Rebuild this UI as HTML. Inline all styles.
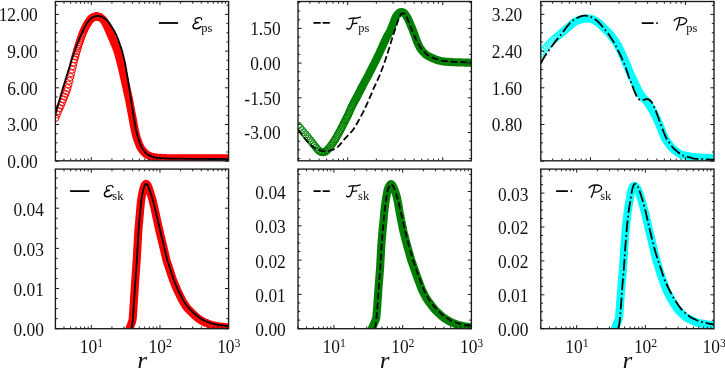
<!DOCTYPE html><html><head><meta charset="utf-8"><style>html,body{margin:0;padding:0;background:#fff;overflow:hidden}svg{display:block;will-change:transform}text{font-family:"Liberation Serif", serif}</style></head><body>
<svg width="725" height="368" viewBox="0 0 725 368">
<rect width="725" height="368" fill="#fff"/>
<defs>
<clipPath id="c00"><rect x="55.40" y="1.50" width="173.20" height="159.30"/></clipPath>
<clipPath id="c01"><rect x="298.00" y="1.50" width="173.40" height="159.30"/></clipPath>
<clipPath id="c02"><rect x="540.80" y="1.50" width="173.20" height="159.30"/></clipPath>
<clipPath id="c10"><rect x="55.40" y="169.10" width="173.20" height="159.60"/></clipPath>
<clipPath id="c11"><rect x="298.00" y="169.10" width="173.40" height="159.60"/></clipPath>
<clipPath id="c12"><rect x="540.80" y="169.10" width="173.20" height="159.60"/></clipPath>
</defs>
<g clip-path="url(#c00)">
<g fill="none" stroke="#ff0000" stroke-width="1.00"><circle cx="55.40" cy="118.00" r="3.55"/><circle cx="56.85" cy="114.37" r="3.55"/><circle cx="58.24" cy="111.06" r="3.55"/><circle cx="59.57" cy="108.10" r="3.55"/><circle cx="60.84" cy="105.26" r="3.55"/><circle cx="62.05" cy="102.35" r="3.55"/><circle cx="63.22" cy="99.44" r="3.55"/><circle cx="64.35" cy="96.63" r="3.55"/><circle cx="65.43" cy="93.91" r="3.55"/><circle cx="66.48" cy="91.18" r="3.55"/><circle cx="67.49" cy="88.06" r="3.55"/><circle cx="68.47" cy="84.48" r="3.55"/><circle cx="69.41" cy="80.75" r="3.55"/><circle cx="70.33" cy="76.96" r="3.55"/><circle cx="71.22" cy="73.25" r="3.55"/><circle cx="72.08" cy="69.64" r="3.55"/><circle cx="72.92" cy="66.05" r="3.55"/><circle cx="73.74" cy="62.49" r="3.55"/><circle cx="74.54" cy="59.26" r="3.55"/><circle cx="75.31" cy="56.40" r="3.55"/><circle cx="76.07" cy="53.69" r="3.55"/><circle cx="76.80" cy="51.06" r="3.55"/><circle cx="77.52" cy="48.51" r="3.55"/><circle cx="78.22" cy="46.10" r="3.55"/><circle cx="78.91" cy="43.94" r="3.55"/><circle cx="79.58" cy="41.97" r="3.55"/><circle cx="80.23" cy="40.10" r="3.55"/><circle cx="80.87" cy="38.29" r="3.55"/><circle cx="81.50" cy="36.52" r="3.55"/><circle cx="82.12" cy="34.81" r="3.55"/><circle cx="82.72" cy="33.21" r="3.55"/><circle cx="83.31" cy="31.77" r="3.55"/><circle cx="83.89" cy="30.47" r="3.55"/><circle cx="84.46" cy="29.27" r="3.55"/><circle cx="85.01" cy="28.15" r="3.55"/><circle cx="85.56" cy="27.08" r="3.55"/><circle cx="86.10" cy="26.07" r="3.55"/><circle cx="86.63" cy="25.11" r="3.55"/><circle cx="87.14" cy="24.20" r="3.55"/><circle cx="87.65" cy="23.34" r="3.55"/><circle cx="88.16" cy="22.53" r="3.55"/><circle cx="88.65" cy="21.77" r="3.55"/><circle cx="89.13" cy="21.07" r="3.55"/><circle cx="89.61" cy="20.43" r="3.55"/><circle cx="90.08" cy="19.85" r="3.55"/><circle cx="90.54" cy="19.33" r="3.55"/><circle cx="91.00" cy="18.86" r="3.55"/><circle cx="91.45" cy="18.46" r="3.55"/><circle cx="91.89" cy="18.09" r="3.55"/><circle cx="92.32" cy="17.78" r="3.55"/><circle cx="92.75" cy="17.50" r="3.55"/><circle cx="93.17" cy="17.27" r="3.55"/><circle cx="93.59" cy="17.06" r="3.55"/><circle cx="94.00" cy="16.90" r="3.55"/><circle cx="94.41" cy="16.75" r="3.55"/><circle cx="94.81" cy="16.64" r="3.55"/><circle cx="95.20" cy="16.54" r="3.55"/><circle cx="95.59" cy="16.49" r="3.55"/><circle cx="95.98" cy="16.44" r="3.55"/><circle cx="96.36" cy="16.42" r="3.55"/><circle cx="96.73" cy="16.43" r="3.55"/><circle cx="97.10" cy="16.43" r="3.55"/><circle cx="97.47" cy="16.48" r="3.55"/><circle cx="97.83" cy="16.54" r="3.55"/><circle cx="98.19" cy="16.61" r="3.55"/><circle cx="98.54" cy="16.71" r="3.55"/><circle cx="98.89" cy="16.81" r="3.55"/><circle cx="99.23" cy="16.94" r="3.55"/><circle cx="99.57" cy="17.09" r="3.55"/><circle cx="99.91" cy="17.24" r="3.55"/></g>
<path d="M99.9,17.2 100.7,17.7 101.5,18.3 102.3,18.9 103.0,19.6 103.6,20.3 104.2,21.1 104.8,22.0 105.3,22.8 105.8,23.7 106.2,24.6 106.7,25.4 107.1,26.4 107.5,27.3 107.9,28.2 108.3,29.1 108.7,30.0 109.1,30.9 109.5,31.9 109.9,32.8 110.3,33.7 110.7,34.6 111.1,35.5 111.5,36.5 111.9,37.4 112.3,38.3 112.7,39.2 113.1,40.1 113.4,41.1 113.8,42.0 114.2,42.9 114.6,43.8 115.0,44.8 115.4,45.7 115.8,46.6 116.1,47.5 116.5,48.5 116.9,49.4 117.2,50.3 117.5,51.3 117.8,52.2 118.1,53.2 118.4,54.2 118.6,55.1 118.9,56.1 119.2,57.1 119.4,58.0 119.7,59.0 120.0,59.9 120.2,60.9 120.4,61.9 120.7,62.9 120.9,63.8 121.2,64.8 121.4,65.8 121.6,66.8 121.9,67.7 122.1,68.7 122.3,69.7 122.5,70.7 122.8,71.6 123.0,72.6 123.2,73.6 123.4,74.6 123.7,75.5 123.9,76.5 124.1,77.5 124.3,78.5 124.6,79.4 124.8,80.4 125.0,81.4 125.2,82.4 125.4,83.3 125.6,84.3 125.9,85.3 126.1,86.3 126.3,87.3 126.5,88.2 126.7,89.2 126.9,90.2 127.2,91.2 127.4,92.1 127.6,93.1 127.8,94.1 128.0,95.1 128.2,96.0 128.4,97.0 128.7,98.0 128.9,99.0 129.1,100.0 129.3,100.9 129.5,101.9 129.7,102.9 129.8,103.9 130.0,104.9 130.2,105.9 130.4,106.8 130.6,107.8 130.8,108.8 131.0,109.8 131.1,110.8 131.3,111.8 131.5,112.7 131.7,113.7 131.9,114.7 132.1,115.7 132.3,116.7 132.5,117.7 132.6,118.6 132.8,119.6 133.0,120.6 133.2,121.6 133.4,122.6 133.5,123.6 133.7,124.6 133.9,125.5 134.1,126.5 134.3,127.5 134.5,128.5 134.7,129.5 134.9,130.4 135.1,131.4 135.3,132.4 135.6,133.4 135.8,134.3 136.1,135.3 136.3,136.3 136.6,137.2 136.9,138.2 137.2,139.1 137.5,140.1 137.8,141.0 138.2,142.0 138.6,142.9 138.9,143.8 139.3,144.7 139.7,145.7 140.1,146.6 140.6,147.4 141.1,148.3 141.6,149.1 142.2,149.9 142.8,150.7 143.5,151.5 144.1,152.2 144.8,152.9 145.6,153.6 146.3,154.2 147.2,154.7 148.0,155.2 148.9,155.7 149.8,156.1 150.7,156.4 151.7,156.7 152.6,156.9 153.6,157.1 154.6,157.3 155.6,157.5 156.6,157.6 157.5,157.7 158.5,157.8 159.5,157.9 160.5,157.9 161.5,158.0 162.5,158.0 163.5,158.1 164.5,158.1 165.5,158.1 166.5,158.2 167.5,158.2 168.5,158.2 169.5,158.3 170.5,158.3 171.5,158.3 172.5,158.3 173.5,158.3 174.5,158.3 175.5,158.3 176.5,158.3 177.5,158.3 178.5,158.3 179.5,158.3 180.6,158.3 181.6,158.3 182.6,158.3 183.6,158.3 184.6,158.3 185.6,158.4 186.6,158.4 187.6,158.4 188.6,158.4 189.6,158.4 190.6,158.4 191.6,158.4 192.6,158.4 193.6,158.4 194.6,158.4 195.6,158.4 196.6,158.4 197.6,158.4 198.6,158.4 199.6,158.4 200.6,158.4 201.6,158.4 202.6,158.4 203.6,158.4 204.6,158.4 205.6,158.4 206.6,158.4 207.6,158.4 208.6,158.4 209.6,158.4 210.6,158.4 211.6,158.4 212.6,158.4 213.6,158.4 214.6,158.4 215.6,158.4 216.6,158.4 217.6,158.4 218.6,158.4 219.6,158.4 220.6,158.4 221.6,158.4 222.6,158.4 223.6,158.4 224.6,158.4 225.6,158.4 226.6,158.4 227.6,158.4 228.6,158.4" fill="none" stroke="#ff0000" stroke-width="8.10" stroke-linejoin="round" stroke-linecap="round"/>
<path d="M55.4,114.3 55.7,113.3 56.0,112.4 56.2,111.4 56.5,110.5 56.8,109.5 57.1,108.5 57.4,107.6 57.6,106.6 57.9,105.6 58.2,104.7 58.5,103.7 58.7,102.8 59.0,101.8 59.3,100.8 59.5,99.9 59.8,98.9 60.1,97.9 60.3,97.0 60.6,96.0 60.9,95.0 61.2,94.1 61.4,93.1 61.7,92.1 62.0,91.2 62.3,90.2 62.5,89.3 62.8,88.3 63.1,87.4 63.4,86.4 63.7,85.4 64.0,84.5 64.3,83.5 64.6,82.6 64.9,81.6 65.2,80.7 65.5,79.7 65.8,78.7 66.1,77.8 66.4,76.8 66.7,75.9 67.0,74.9 67.3,74.0 67.6,73.0 67.9,72.1 68.2,71.1 68.5,70.1 68.8,69.2 69.1,68.2 69.4,67.3 69.7,66.3 70.0,65.4 70.3,64.4 70.5,63.4 70.8,62.5 71.1,61.5 71.4,60.6 71.7,59.6 72.1,58.7 72.4,57.7 72.7,56.8 73.0,55.8 73.4,54.9 73.7,53.9 74.0,53.0 74.4,52.0 74.7,51.1 75.0,50.2 75.3,49.2 75.7,48.3 76.0,47.3 76.3,46.4 76.7,45.4 77.0,44.5 77.4,43.6 77.8,42.6 78.2,41.7 78.5,40.8 78.9,39.9 79.3,38.9 79.7,38.0 80.1,37.1 80.5,36.2 80.9,35.3 81.3,34.4 81.7,33.4 82.2,32.5 82.6,31.6 83.0,30.7 83.4,29.8 83.9,28.9 84.3,28.0 84.7,27.1 85.2,26.2 85.6,25.3 86.1,24.5 86.7,23.6 87.2,22.8 87.8,22.0 88.4,21.2 89.0,20.4 89.7,19.7 90.5,19.1 91.3,18.4 92.1,17.8 92.9,17.3 93.8,16.9 94.7,16.5 95.7,16.2 96.6,16.1 97.6,16.0 98.6,16.0 99.6,16.2 100.5,16.4 101.5,16.7 102.4,17.1 103.2,17.6 104.1,18.1 104.9,18.7 105.7,19.3 106.5,19.9 107.2,20.6 107.8,21.4 108.4,22.1 109.1,22.9 109.7,23.7 110.3,24.5 110.8,25.3 111.4,26.2 111.9,27.0 112.5,27.9 113.0,28.7 113.5,29.6 114.0,30.5 114.5,31.3 114.9,32.2 115.3,33.1 115.8,34.0 116.2,34.9 116.6,35.9 117.0,36.8 117.4,37.7 117.8,38.6 118.2,39.5 118.5,40.5 118.9,41.4 119.2,42.4 119.5,43.3 119.9,44.2 120.2,45.2 120.5,46.1 120.9,47.1 121.2,48.0 121.5,49.0 121.8,49.9 122.1,50.9 122.4,51.9 122.6,52.8 122.8,53.8 123.1,54.8 123.3,55.7 123.6,56.7 123.8,57.7 124.1,58.7 124.3,59.6 124.5,60.6 124.7,61.6 124.9,62.6 125.1,63.6 125.3,64.5 125.4,65.5 125.6,66.5 125.8,67.5 126.0,68.5 126.2,69.5 126.4,70.4 126.5,71.4 126.7,72.4 126.9,73.4 127.0,74.4 127.2,75.4 127.4,76.4 127.5,77.4 127.7,78.3 127.9,79.3 128.0,80.3 128.2,81.3 128.3,82.3 128.5,83.3 128.6,84.3 128.8,85.3 128.9,86.3 129.1,87.2 129.2,88.2 129.4,89.2 129.5,90.2 129.7,91.2 129.8,92.2 130.0,93.2 130.1,94.2 130.3,95.2 130.4,96.2 130.6,97.2 130.7,98.1 130.9,99.1 131.0,100.1 131.2,101.1 131.3,102.1 131.5,103.1 131.7,104.1 131.8,105.1 132.0,106.1 132.1,107.0 132.3,108.0 132.4,109.0 132.6,110.0 132.8,111.0 132.9,112.0 133.1,113.0 133.3,114.0 133.4,114.9 133.6,115.9 133.8,116.9 133.9,117.9 134.1,118.9 134.3,119.9 134.4,120.9 134.6,121.9 134.8,122.8 135.0,123.8 135.1,124.8 135.3,125.8 135.5,126.8 135.6,127.8 135.8,128.8 136.0,129.7 136.2,130.7 136.5,131.7 136.7,132.7 137.0,133.6 137.2,134.6 137.5,135.6 137.7,136.5 138.0,137.5 138.3,138.5 138.6,139.4 138.9,140.4 139.2,141.3 139.6,142.2 140.0,143.2 140.3,144.1 140.7,145.0 141.1,145.9 141.5,146.9 141.9,147.7 142.4,148.6 143.0,149.4 143.6,150.2 144.2,151.0 144.8,151.8 145.4,152.6 146.1,153.3 146.9,153.9 147.7,154.4 148.6,154.9 149.5,155.4 150.4,155.9 151.3,156.2 152.2,156.6 153.2,156.9 154.1,157.1 155.1,157.4 156.1,157.6 157.0,157.8 158.0,157.9 159.0,158.0 160.0,158.1 161.0,158.1 162.0,158.2 163.0,158.2 164.0,158.3 165.0,158.3 166.0,158.4 167.0,158.4 168.0,158.5 169.0,158.5 170.0,158.6 171.0,158.6 172.0,158.6 173.0,158.6 174.0,158.6 175.0,158.7 176.0,158.7 177.0,158.7 178.0,158.7 179.0,158.7 180.0,158.7 181.0,158.7 182.0,158.7 183.0,158.7 184.0,158.7 185.0,158.8 186.0,158.8 187.0,158.8 188.0,158.8 189.0,158.8 190.0,158.8 191.1,158.8 192.1,158.8 193.1,158.8 194.1,158.8 195.1,158.9 196.1,158.9 197.1,158.9 198.1,158.9 199.1,158.9 200.1,158.9 201.1,158.9 202.1,158.9 203.1,158.9 204.1,158.9 205.1,158.9 206.1,158.9 207.1,158.9 208.1,159.0 209.1,159.0 210.1,159.0 211.1,159.0 212.1,159.0 213.1,159.0 214.1,159.0 215.1,159.0 216.1,159.0 217.1,159.0 218.1,159.0 219.1,159.0 220.1,159.0 221.1,159.0 222.1,159.1 223.1,159.1 224.1,159.1 225.1,159.1 226.1,159.1 227.1,159.1 228.1,159.1 228.6,159.1" fill="none" stroke="#000" stroke-width="1.80" />
</g>
<g clip-path="url(#c01)">
<g fill="none" stroke="#008000" stroke-width="1.00"><circle cx="298.00" cy="125.50" r="3.55"/><circle cx="300.01" cy="127.92" r="3.55"/><circle cx="301.94" cy="130.22" r="3.55"/><circle cx="303.77" cy="132.39" r="3.55"/><circle cx="305.53" cy="134.44" r="3.55"/><circle cx="307.21" cy="136.43" r="3.55"/><circle cx="308.83" cy="138.42" r="3.55"/><circle cx="310.39" cy="140.36" r="3.55"/><circle cx="311.89" cy="142.25" r="3.55"/><circle cx="313.34" cy="144.09" r="3.55"/><circle cx="314.74" cy="145.88" r="3.55"/><circle cx="316.09" cy="147.57" r="3.55"/><circle cx="317.41" cy="149.12" r="3.55"/><circle cx="318.68" cy="150.43" r="3.55"/><circle cx="319.91" cy="151.40" r="3.55"/><circle cx="321.11" cy="151.98" r="3.55"/><circle cx="322.27" cy="152.26" r="3.55"/><circle cx="323.40" cy="152.25" r="3.55"/><circle cx="324.50" cy="151.98" r="3.55"/><circle cx="325.57" cy="151.44" r="3.55"/><circle cx="326.62" cy="150.69" r="3.55"/><circle cx="327.64" cy="149.74" r="3.55"/><circle cx="328.63" cy="148.60" r="3.55"/><circle cx="329.61" cy="147.39" r="3.55"/><circle cx="330.55" cy="146.11" r="3.55"/><circle cx="331.48" cy="144.82" r="3.55"/><circle cx="332.39" cy="143.54" r="3.55"/><circle cx="333.28" cy="142.29" r="3.55"/><circle cx="334.15" cy="141.03" r="3.55"/><circle cx="335.00" cy="139.69" r="3.55"/><circle cx="335.83" cy="138.28" r="3.55"/><circle cx="336.65" cy="136.84" r="3.55"/><circle cx="337.45" cy="135.41" r="3.55"/><circle cx="338.24" cy="134.02" r="3.55"/><circle cx="339.01" cy="132.64" r="3.55"/><circle cx="339.77" cy="131.29" r="3.55"/><circle cx="340.51" cy="129.91" r="3.55"/><circle cx="341.24" cy="128.50" r="3.55"/><circle cx="341.96" cy="127.08" r="3.55"/><circle cx="342.67" cy="125.67" r="3.55"/><circle cx="343.36" cy="124.28" r="3.55"/><circle cx="344.04" cy="122.92" r="3.55"/><circle cx="344.71" cy="121.59" r="3.55"/><circle cx="345.37" cy="120.30" r="3.55"/><circle cx="346.02" cy="119.04" r="3.55"/><circle cx="346.67" cy="117.79" r="3.55"/><circle cx="347.30" cy="116.55" r="3.55"/><circle cx="347.92" cy="115.29" r="3.55"/><circle cx="348.53" cy="113.97" r="3.55"/><circle cx="349.13" cy="112.62" r="3.55"/><circle cx="349.72" cy="111.25" r="3.55"/><circle cx="350.31" cy="109.90" r="3.55"/><circle cx="350.89" cy="108.57" r="3.55"/><circle cx="351.46" cy="107.29" r="3.55"/><circle cx="352.02" cy="106.09" r="3.55"/><circle cx="352.57" cy="104.99" r="3.55"/><circle cx="353.12" cy="103.96" r="3.55"/><circle cx="353.66" cy="102.96" r="3.55"/><circle cx="354.19" cy="101.98" r="3.55"/><circle cx="354.72" cy="101.02" r="3.55"/><circle cx="355.24" cy="100.06" r="3.55"/><circle cx="355.75" cy="99.12" r="3.55"/><circle cx="356.26" cy="98.19" r="3.55"/><circle cx="356.76" cy="97.27" r="3.55"/><circle cx="357.25" cy="96.36" r="3.55"/><circle cx="357.74" cy="95.44" r="3.55"/><circle cx="358.22" cy="94.52" r="3.55"/><circle cx="358.70" cy="93.59" r="3.55"/><circle cx="359.17" cy="92.65" r="3.55"/><circle cx="359.64" cy="91.72" r="3.55"/><circle cx="360.10" cy="90.80" r="3.55"/><circle cx="360.56" cy="89.89" r="3.55"/><circle cx="361.01" cy="88.98" r="3.55"/><circle cx="361.46" cy="88.09" r="3.55"/><circle cx="361.90" cy="87.21" r="3.55"/></g>
<path d="M361.7,87.5 362.2,86.6 362.6,85.8 363.1,84.9 363.6,84.0 364.0,83.1 364.5,82.2 365.0,81.3 365.5,80.5 366.0,79.6 366.5,78.7 366.9,77.8 367.4,77.0 367.9,76.1 368.4,75.2 368.8,74.3 369.3,73.4 369.7,72.5 370.2,71.6 370.6,70.7 371.1,69.8 371.5,68.9 372.0,68.0 372.4,67.1 372.9,66.2 373.3,65.3 373.8,64.5 374.2,63.6 374.7,62.7 375.1,61.8 375.6,60.9 376.0,60.0 376.5,59.1 376.9,58.2 377.4,57.3 377.8,56.4 378.2,55.5 378.7,54.6 379.1,53.7 379.5,52.8 379.9,51.8 380.3,50.9 380.7,50.0 381.2,49.1 381.6,48.2 382.0,47.3 382.4,46.4 382.8,45.5 383.2,44.5 383.6,43.6 384.1,42.7 384.5,41.8 384.9,40.9 385.4,40.0 385.8,39.1 386.2,38.2 386.7,37.3 387.1,36.4 387.6,35.5 388.1,34.7 388.6,33.8 389.1,32.9 389.6,32.1 390.0,31.2 390.5,30.3 390.9,29.4 391.2,28.4 391.6,27.5 392.0,26.6 392.3,25.6 392.7,24.7 393.1,23.8 393.4,22.8 393.8,21.9 394.1,21.0 394.5,20.0 394.8,19.1 395.2,18.2 395.6,17.3 396.1,16.4 396.7,15.6 397.3,14.8 397.9,14.0 398.6,13.3 399.3,12.7 400.2,12.3 401.1,12.1 401.9,12.1 402.8,12.3 403.6,12.8 404.4,13.3 405.0,14.1 405.6,14.9 406.2,15.7 406.7,16.5 407.2,17.4 407.7,18.3 408.2,19.2 408.6,20.1 409.0,21.0 409.4,21.9 409.8,22.8 410.2,23.7 410.6,24.7 410.9,25.6 411.3,26.5 411.7,27.4 412.1,28.4 412.5,29.3 412.8,30.2 413.2,31.2 413.6,32.1 413.9,33.0 414.3,34.0 414.6,34.9 414.9,35.8 415.3,36.8 415.6,37.7 415.9,38.7 416.3,39.6 416.6,40.6 417.0,41.5 417.4,42.4 417.8,43.3 418.2,44.2 418.6,45.1 419.1,46.0 419.5,46.9 420.0,47.8 420.5,48.6 421.1,49.5 421.7,50.3 422.3,51.1 423.0,51.8 423.7,52.5 424.4,53.2 425.1,53.9 425.9,54.6 426.7,55.1 427.5,55.7 428.4,56.1 429.3,56.6 430.2,57.1 431.1,57.5 432.0,58.0 432.9,58.4 433.8,58.7 434.7,59.1 435.7,59.5 436.6,59.8 437.5,60.2 438.5,60.4 439.5,60.7 440.4,60.9 441.4,61.1 442.4,61.3 443.4,61.4 444.4,61.6 445.4,61.7 446.4,61.8 447.4,61.8 448.4,61.9 449.4,62.0 450.4,62.0 451.4,62.1 452.4,62.1 453.4,62.2 454.4,62.3 455.4,62.3 456.4,62.3 457.4,62.4 458.4,62.4 459.4,62.4 460.4,62.4 461.4,62.5 462.4,62.5 463.4,62.5 464.4,62.5 465.4,62.6 466.4,62.6 467.4,62.6 468.4,62.6 469.4,62.7 470.4,62.7 471.4,62.7" fill="none" stroke="#008000" stroke-width="8.10" stroke-linejoin="round" stroke-linecap="round"/>
<path d="M298.0,129.5 298.6,130.3 299.2,131.1 299.8,131.9 300.4,132.7 301.0,133.5 301.6,134.3 302.2,135.1 302.8,135.9 303.4,136.7 304.0,137.5 304.7,138.3 305.3,139.0 305.9,139.8 306.6,140.6 307.2,141.3 307.9,142.1 308.6,142.8 309.3,143.5 310.0,144.2 310.7,144.9 311.5,145.6 312.2,146.2 313.0,146.8 313.8,147.4 314.6,147.9 315.5,148.5 316.3,148.9 317.2,149.4 318.1,149.8 319.1,150.1 320.0,150.4 320.9,150.7 321.9,150.9 322.9,151.1 323.9,151.2 324.8,151.3 325.8,151.3 326.8,151.2 327.8,151.1 328.8,151.0 329.7,150.7 330.7,150.5 331.6,150.2 332.5,149.8 333.5,149.5 334.4,149.0 335.2,148.6 336.1,148.1 336.9,147.5 337.7,146.9 338.4,146.3 339.1,145.6 339.8,144.9 340.4,144.1 341.0,143.3 341.7,142.6 342.3,141.8 342.9,141.0 343.6,140.2 344.2,139.5 344.9,138.7 345.6,138.0 346.2,137.3 346.9,136.6 347.6,135.8 348.3,135.1 349.0,134.4 349.7,133.7 350.4,133.0 351.1,132.2 351.7,131.5 352.4,130.7 353.0,129.9 353.6,129.1 354.1,128.3 354.6,127.5 355.2,126.6 355.7,125.7 356.2,124.9 356.7,124.0 357.1,123.1 357.6,122.3 358.1,121.4 358.6,120.5 359.1,119.6 359.6,118.7 360.0,117.9 360.5,117.0 361.0,116.1 361.5,115.2 361.9,114.3 362.4,113.5 362.9,112.6 363.3,111.7 363.8,110.8 364.2,109.9 364.7,109.0 365.1,108.1 365.5,107.2 365.9,106.3 366.3,105.4 366.8,104.4 367.2,103.5 367.6,102.6 368.0,101.7 368.4,100.8 368.8,99.9 369.2,98.9 369.6,98.0 370.0,97.1 370.4,96.2 370.8,95.3 371.2,94.4 371.6,93.4 372.0,92.5 372.3,91.6 372.7,90.7 373.1,89.8 373.5,88.8 373.9,87.9 374.3,87.0 374.8,86.1 375.2,85.2 375.6,84.3 376.0,83.4 376.4,82.5 376.8,81.6 377.3,80.6 377.7,79.7 378.1,78.8 378.5,77.9 378.9,77.0 379.3,76.1 379.7,75.1 380.0,74.2 380.4,73.3 380.8,72.3 381.1,71.4 381.5,70.5 381.8,69.5 382.2,68.6 382.6,67.7 382.9,66.7 383.3,65.8 383.6,64.9 384.0,63.9 384.3,63.0 384.6,62.0 385.0,61.1 385.3,60.1 385.6,59.2 385.9,58.2 386.2,57.3 386.6,56.3 386.9,55.4 387.2,54.4 387.5,53.5 387.8,52.5 388.1,51.6 388.4,50.6 388.7,49.7 389.0,48.7 389.3,47.8 389.6,46.8 389.9,45.9 390.2,44.9 390.5,43.9 390.7,43.0 391.0,42.0 391.3,41.1 391.6,40.1 391.9,39.2 392.2,38.2 392.5,37.2 392.8,36.3 393.1,35.3 393.4,34.4 393.7,33.4 394.1,32.5 394.4,31.5 394.7,30.6 395.0,29.6 395.3,28.7 395.6,27.7 396.0,26.8 396.3,25.8 396.6,24.9 396.9,23.9 397.2,23.0 397.5,22.0 397.9,21.1 398.2,20.1 398.5,19.2 398.8,18.3 399.2,17.3 399.6,16.5 400.0,15.6 400.5,14.9 401.0,14.2 401.6,13.7 402.2,13.3 402.9,13.2 403.5,13.3 404.2,13.6 404.7,14.0 405.3,14.7 405.8,15.4 406.3,16.2 406.7,17.1 407.1,18.0 407.5,18.9 407.9,19.8 408.3,20.7 408.6,21.7 409.0,22.6 409.4,23.5 409.7,24.5 410.1,25.4 410.4,26.3 410.8,27.3 411.2,28.2 411.6,29.1 411.9,30.0 412.3,31.0 412.7,31.9 413.1,32.8 413.5,33.7 413.9,34.6 414.3,35.6 414.7,36.5 415.1,37.4 415.5,38.3 416.0,39.2 416.4,40.1 416.8,41.0 417.3,41.9 417.8,42.8 418.2,43.6 418.7,44.5 419.2,45.4 419.7,46.2 420.3,47.1 420.8,47.9 421.4,48.7 422.0,49.5 422.6,50.3 423.3,51.0 424.0,51.7 424.7,52.4 425.4,53.1 426.1,53.8 426.9,54.4 427.7,55.0 428.5,55.5 429.4,56.0 430.3,56.5 431.1,56.9 432.0,57.4 432.9,57.8 433.9,58.2 434.8,58.6 435.7,58.9 436.7,59.2 437.6,59.5 438.6,59.8 439.5,60.1 440.5,60.3 441.5,60.5 442.5,60.7 443.4,60.8 444.4,61.0 445.4,61.1 446.4,61.2 447.4,61.3 448.4,61.4 449.4,61.5 450.4,61.6 451.4,61.6 452.4,61.7 453.4,61.8 454.4,61.8 455.4,61.9 456.4,61.9 457.4,62.0 458.4,62.0 459.4,62.1 460.4,62.1 461.4,62.1 462.4,62.2 463.4,62.2 464.4,62.3 465.4,62.3 466.4,62.3 467.4,62.4 468.4,62.4 469.4,62.4 470.4,62.5 471.4,62.5" fill="none" stroke="#000" stroke-width="1.80" stroke-dasharray="6.8,3.0"/>
</g>
<g clip-path="url(#c02)">
<g fill="none" stroke="#00ffff" stroke-width="1.00"><circle cx="540.80" cy="53.50" r="3.55"/><circle cx="542.81" cy="51.18" r="3.55"/><circle cx="544.73" cy="48.97" r="3.55"/><circle cx="546.56" cy="46.91" r="3.55"/><circle cx="548.32" cy="45.02" r="3.55"/><circle cx="550.00" cy="43.21" r="3.55"/><circle cx="551.62" cy="41.49" r="3.55"/><circle cx="553.18" cy="39.96" r="3.55"/><circle cx="554.68" cy="38.67" r="3.55"/><circle cx="556.12" cy="37.49" r="3.55"/><circle cx="557.52" cy="36.37" r="3.55"/><circle cx="558.87" cy="35.28" r="3.55"/><circle cx="560.18" cy="34.22" r="3.55"/><circle cx="561.45" cy="33.16" r="3.55"/><circle cx="562.68" cy="32.07" r="3.55"/><circle cx="563.88" cy="31.01" r="3.55"/><circle cx="565.04" cy="30.00" r="3.55"/><circle cx="566.17" cy="29.06" r="3.55"/><circle cx="567.27" cy="28.15" r="3.55"/><circle cx="568.34" cy="27.27" r="3.55"/><circle cx="569.39" cy="26.38" r="3.55"/><circle cx="570.40" cy="25.49" r="3.55"/><circle cx="571.40" cy="24.60" r="3.55"/></g>
<path d="M572.0,24.0 572.8,23.4 573.5,22.7 574.3,22.1 575.2,21.6 576.1,21.2 577.0,20.8 577.9,20.4 578.9,20.1 579.8,19.8 580.8,19.5 581.7,19.2 582.7,19.0 583.7,18.8 584.6,18.6 585.6,18.6 586.6,18.6 587.6,18.6 588.6,18.7 589.6,18.7 590.6,18.8 591.6,19.0 592.5,19.3 593.4,19.7 594.3,20.2 595.2,20.6 596.0,21.2 596.8,21.7 597.6,22.3 598.4,22.9 599.2,23.6 599.9,24.2 600.7,24.9 601.4,25.6 602.1,26.3 602.9,27.0 603.6,27.7 604.3,28.4 605.0,29.1 605.7,29.8 606.5,30.5 607.2,31.2 607.9,31.9 608.6,32.6 609.2,33.3 609.9,34.1 610.5,34.9 611.1,35.7 611.7,36.5 612.3,37.3 612.9,38.1 613.5,38.9 614.0,39.7 614.6,40.5 615.2,41.3 615.8,42.1 616.4,42.9 617.0,43.8 617.5,44.6 618.0,45.5 618.5,46.4 618.9,47.3 619.3,48.2 619.8,49.1 620.2,50.0 620.6,50.9 621.0,51.8 621.5,52.7 621.9,53.6 622.3,54.5 622.7,55.5 623.1,56.4 623.5,57.3 623.9,58.2 624.3,59.1 624.7,60.0 625.1,60.9 625.5,61.9 625.9,62.8 626.3,63.7 626.7,64.6 627.1,65.5 627.4,66.5 627.8,67.4 628.2,68.4 628.5,69.3 628.9,70.2 629.3,71.1 629.7,72.0 630.1,72.9 630.6,73.8 631.0,74.8 631.4,75.7 631.9,76.6 632.3,77.5 632.7,78.4 633.1,79.3 633.6,80.2 634.0,81.1 634.4,82.0 634.8,82.9 635.2,83.8 635.6,84.7 636.0,85.7 636.5,86.6 636.9,87.5 637.3,88.4 637.7,89.3 638.2,90.2 638.7,91.0 639.2,91.9 639.7,92.8 640.2,93.6 640.8,94.5 641.3,95.3 641.9,96.1 642.5,96.9 643.2,97.6 643.9,98.3 644.6,99.1 645.2,99.8 645.9,100.5 646.5,101.3 647.1,102.1 647.7,102.9 648.3,103.7 648.8,104.6 649.4,105.4 649.9,106.2 650.5,107.1 651.0,107.9 651.5,108.8 652.0,109.7 652.5,110.5 653.0,111.4 653.5,112.3 654.0,113.2 654.5,114.0 654.9,114.9 655.4,115.8 655.8,116.7 656.3,117.6 656.7,118.5 657.1,119.4 657.5,120.3 657.9,121.3 658.3,122.2 658.7,123.1 659.1,124.0 659.4,125.0 659.8,125.9 660.2,126.8 660.6,127.7 660.9,128.7 661.3,129.6 661.7,130.5 662.1,131.5 662.4,132.4 662.8,133.3 663.2,134.3 663.5,135.2 663.9,136.1 664.3,137.0 664.8,137.9 665.2,138.8 665.8,139.6 666.3,140.4 666.9,141.3 667.5,142.1 668.1,142.9 668.7,143.7 669.3,144.5 669.8,145.3 670.4,146.1 671.0,146.9 671.7,147.7 672.4,148.4 673.1,149.1 673.9,149.7 674.7,150.3 675.5,150.9 676.3,151.5 677.1,152.1 677.9,152.7 678.7,153.3 679.5,153.8 680.4,154.3 681.3,154.7 682.2,154.9 683.2,155.1 684.2,155.3 685.2,155.5 686.1,155.7 687.1,155.9 688.1,156.1 689.1,156.3 690.1,156.5 691.1,156.7 692.0,156.9 693.0,157.1 694.0,157.2 695.0,157.4 696.0,157.4 697.0,157.5 698.0,157.5 699.0,157.6 700.0,157.6 701.0,157.6 702.0,157.7 703.0,157.7 704.0,157.7 705.0,157.8 706.0,157.8 707.0,157.8 708.0,157.9 709.0,157.9 710.0,158.0 711.0,158.0 712.0,158.0 713.0,158.1 714.0,158.1" fill="none" stroke="#00ffff" stroke-width="8.10" stroke-linejoin="round" stroke-linecap="round"/>
<path d="M540.8,63.6 541.2,62.7 541.7,61.8 542.1,60.9 542.6,60.0 543.0,59.1 543.5,58.2 544.0,57.4 544.6,56.5 545.1,55.7 545.7,54.9 546.3,54.1 546.9,53.3 547.5,52.5 548.0,51.7 548.6,50.8 549.2,50.0 549.8,49.2 550.4,48.4 551.0,47.6 551.5,46.8 552.1,46.0 552.7,45.2 553.3,44.3 553.9,43.5 554.5,42.7 555.1,41.9 555.7,41.1 556.3,40.3 556.9,39.6 557.5,38.8 558.2,38.0 558.8,37.2 559.4,36.4 560.0,35.6 560.7,34.9 561.3,34.1 561.9,33.3 562.5,32.5 563.2,31.7 563.8,30.9 564.4,30.1 565.0,29.3 565.6,28.5 566.2,27.7 566.8,26.9 567.4,26.2 568.0,25.4 568.7,24.6 569.3,23.9 570.0,23.1 570.7,22.4 571.4,21.7 572.2,21.1 573.0,20.5 573.8,19.9 574.6,19.4 575.5,18.8 576.3,18.3 577.2,17.9 578.1,17.5 579.0,17.1 580.0,16.7 580.9,16.3 581.8,16.0 582.8,15.8 583.8,15.7 584.8,15.7 585.8,15.7 586.8,15.8 587.7,16.0 588.7,16.2 589.7,16.5 590.6,16.8 591.5,17.2 592.4,17.7 593.3,18.2 594.1,18.7 594.9,19.3 595.7,19.8 596.5,20.4 597.3,21.1 598.0,21.7 598.8,22.4 599.4,23.2 600.1,23.9 600.8,24.7 601.4,25.4 602.1,26.2 602.7,27.0 603.4,27.7 604.0,28.5 604.7,29.2 605.3,30.0 605.9,30.8 606.6,31.6 607.2,32.3 607.8,33.1 608.4,33.9 609.0,34.8 609.5,35.6 610.1,36.4 610.6,37.3 611.2,38.1 611.7,38.9 612.3,39.8 612.8,40.6 613.4,41.4 613.9,42.3 614.4,43.1 614.9,44.0 615.3,44.9 615.8,45.8 616.2,46.7 616.7,47.6 617.1,48.5 617.6,49.4 618.0,50.3 618.5,51.2 618.9,52.1 619.4,53.0 619.8,53.9 620.2,54.8 620.7,55.7 621.1,56.6 621.5,57.5 621.9,58.4 622.3,59.3 622.7,60.3 623.1,61.2 623.5,62.1 623.9,63.0 624.3,63.9 624.6,64.9 625.0,65.8 625.4,66.7 625.8,67.6 626.1,68.6 626.4,69.5 626.7,70.5 627.0,71.4 627.3,72.4 627.7,73.3 628.0,74.3 628.3,75.2 628.6,76.2 628.9,77.1 629.3,78.1 629.6,79.0 630.0,79.9 630.4,80.9 630.8,81.8 631.2,82.7 631.5,83.6 631.9,84.6 632.2,85.5 632.6,86.4 632.9,87.4 633.3,88.3 633.6,89.3 634.0,90.2 634.4,91.1 634.7,92.0 635.2,93.0 635.6,93.9 636.0,94.8 636.4,95.7 636.9,96.6 637.4,97.4 637.9,98.2 638.6,99.0 639.3,99.6 640.1,100.1 640.9,100.3 641.8,100.4 642.8,100.2 643.7,100.0 644.6,99.7 645.5,99.4 646.5,99.2 647.4,99.2 648.3,99.4 649.2,99.8 649.9,100.3 650.6,101.0 651.3,101.7 651.9,102.5 652.4,103.3 652.9,104.2 653.4,105.1 653.8,106.0 654.2,106.9 654.5,107.8 654.9,108.8 655.3,109.7 655.7,110.6 656.1,111.6 656.4,112.5 656.8,113.4 657.1,114.4 657.5,115.3 657.8,116.2 658.1,117.2 658.5,118.1 658.8,119.1 659.1,120.0 659.5,121.0 659.8,121.9 660.2,122.8 660.5,123.8 660.9,124.7 661.2,125.6 661.6,126.6 661.9,127.5 662.3,128.4 662.7,129.4 663.0,130.3 663.4,131.2 663.8,132.2 664.1,133.1 664.5,134.0 664.9,135.0 665.3,135.9 665.6,136.8 666.1,137.7 666.5,138.6 667.1,139.4 667.6,140.3 668.2,141.1 668.8,141.9 669.4,142.7 669.9,143.5 670.5,144.3 671.1,145.1 671.7,146.0 672.3,146.8 672.9,147.5 673.6,148.3 674.3,149.0 675.0,149.6 675.8,150.3 676.6,150.9 677.3,151.6 678.1,152.2 678.9,152.8 679.6,153.5 680.4,154.1 681.2,154.7 682.1,155.2 683.0,155.5 683.9,155.9 684.9,156.1 685.8,156.4 686.8,156.7 687.8,156.9 688.7,157.2 689.7,157.5 690.7,157.7 691.6,158.0 692.6,158.3 693.6,158.5 694.5,158.7 695.5,158.8 696.5,158.9 697.5,159.0 698.5,159.0 699.5,159.1 700.5,159.1 701.5,159.2 702.5,159.2 703.5,159.3 704.5,159.3 705.5,159.4 706.5,159.4 707.5,159.5 708.5,159.5 709.5,159.6 710.5,159.6 711.5,159.7 712.5,159.7 713.5,159.8 714.0,159.8" fill="none" stroke="#000" stroke-width="1.80" stroke-dasharray="11.8,2.9,1.8,2.9"/>
</g>
<g clip-path="url(#c10)">
<path d="M129.5,328.7 129.8,327.8 130.2,326.8 130.5,325.9 130.9,324.9 131.2,324.0 131.6,323.1 131.9,322.1 132.2,321.2 132.4,320.2 132.6,319.2 132.7,318.2 132.8,317.2 132.9,316.3 132.9,315.3 133.0,314.3 133.1,313.3 133.2,312.3 133.2,311.3 133.3,310.3 133.4,309.3 133.4,308.3 133.5,307.3 133.6,306.3 133.6,305.3 133.7,304.3 133.8,303.3 133.8,302.3 133.9,301.3 134.0,300.3 134.0,299.3 134.1,298.3 134.1,297.3 134.2,296.3 134.3,295.3 134.3,294.3 134.4,293.3 134.5,292.3 134.5,291.3 134.6,290.3 134.7,289.3 134.7,288.3 134.8,287.3 134.8,286.3 134.9,285.3 135.0,284.3 135.0,283.3 135.1,282.3 135.2,281.3 135.3,280.3 135.3,279.3 135.4,278.3 135.5,277.3 135.5,276.3 135.6,275.3 135.7,274.3 135.8,273.3 135.8,272.3 135.9,271.3 136.0,270.3 136.0,269.3 136.1,268.3 136.2,267.3 136.3,266.3 136.3,265.3 136.4,264.3 136.5,263.3 136.5,262.3 136.6,261.3 136.7,260.3 136.7,259.3 136.8,258.3 136.9,257.3 136.9,256.3 137.0,255.3 137.0,254.3 137.1,253.3 137.1,252.3 137.2,251.3 137.2,250.3 137.3,249.3 137.4,248.3 137.4,247.3 137.5,246.3 137.5,245.3 137.6,244.3 137.6,243.3 137.7,242.3 137.8,241.3 137.8,240.3 137.9,239.3 137.9,238.3 138.0,237.3 138.0,236.3 138.1,235.3 138.2,234.3 138.2,233.3 138.3,232.3 138.3,231.3 138.4,230.3 138.5,229.3 138.5,228.4 138.6,227.4 138.7,226.4 138.8,225.4 138.9,224.4 139.0,223.4 139.1,222.4 139.2,221.4 139.3,220.4 139.3,219.4 139.4,218.4 139.5,217.4 139.6,216.4 139.7,215.4 139.8,214.4 139.9,213.4 140.0,212.4 140.1,211.4 140.1,210.4 140.2,209.4 140.3,208.4 140.4,207.4 140.5,206.4 140.6,205.4 140.7,204.4 140.8,203.4 140.9,202.4 141.0,201.4 141.1,200.4 141.2,199.5 141.4,198.5 141.6,197.5 141.7,196.5 141.9,195.5 142.1,194.5 142.3,193.5 142.5,192.6 142.7,191.6 142.9,190.6 143.2,189.6 143.4,188.7 143.7,187.7 144.0,186.8 144.4,185.9 144.8,185.0 145.3,184.3 145.8,183.9 146.4,184.0 146.9,184.4 147.5,185.1 147.9,185.9 148.3,186.8 148.7,187.8 149.0,188.7 149.3,189.7 149.6,190.6 149.9,191.6 150.2,192.5 150.5,193.5 150.8,194.4 151.1,195.4 151.4,196.3 151.7,197.3 152.0,198.3 152.3,199.2 152.6,200.2 152.8,201.1 153.1,202.1 153.3,203.1 153.5,204.1 153.7,205.0 154.0,206.0 154.2,207.0 154.4,208.0 154.6,208.9 154.8,209.9 155.1,210.9 155.3,211.9 155.5,212.8 155.7,213.8 155.9,214.8 156.1,215.8 156.3,216.8 156.6,217.7 156.8,218.7 157.0,219.7 157.2,220.7 157.4,221.7 157.6,222.6 157.8,223.6 158.0,224.6 158.2,225.6 158.5,226.5 158.7,227.5 158.9,228.5 159.1,229.5 159.3,230.5 159.6,231.4 159.8,232.4 160.0,233.4 160.3,234.3 160.5,235.3 160.8,236.3 161.0,237.3 161.2,238.2 161.5,239.2 161.7,240.2 161.9,241.1 162.2,242.1 162.4,243.1 162.7,244.1 162.9,245.0 163.1,246.0 163.4,247.0 163.6,248.0 163.8,248.9 164.0,249.9 164.3,250.9 164.5,251.9 164.7,252.8 165.0,253.8 165.2,254.8 165.4,255.8 165.6,256.7 165.9,257.7 166.1,258.7 166.4,259.6 166.6,260.6 166.9,261.6 167.2,262.5 167.5,263.5 167.9,264.4 168.2,265.4 168.5,266.3 168.8,267.3 169.1,268.2 169.4,269.2 169.7,270.1 170.1,271.1 170.4,272.0 170.7,273.0 171.0,273.9 171.3,274.9 171.6,275.8 171.9,276.8 172.3,277.7 172.6,278.7 172.9,279.6 173.3,280.5 173.6,281.5 174.0,282.4 174.4,283.3 174.8,284.3 175.2,285.2 175.5,286.1 175.9,287.0 176.3,287.9 176.7,288.9 177.1,289.8 177.5,290.7 178.0,291.6 178.4,292.5 178.8,293.4 179.3,294.3 179.7,295.2 180.1,296.1 180.6,297.0 181.0,297.9 181.5,298.8 181.9,299.7 182.4,300.6 182.9,301.4 183.4,302.3 183.9,303.1 184.5,304.0 185.0,304.8 185.5,305.7 186.1,306.5 186.7,307.3 187.4,308.0 188.0,308.8 188.7,309.5 189.4,310.3 190.1,311.0 190.8,311.7 191.5,312.4 192.2,313.1 192.9,313.8 193.7,314.5 194.4,315.2 195.1,315.8 195.9,316.5 196.6,317.1 197.4,317.8 198.2,318.4 199.0,319.0 199.8,319.6 200.7,320.1 201.5,320.6 202.4,321.1 203.2,321.6 204.1,322.1 205.0,322.5 206.0,322.9 206.9,323.2 207.8,323.6 208.8,323.9 209.7,324.3 210.7,324.6 211.6,324.9 212.6,325.1 213.6,325.3 214.5,325.6 215.5,325.8 216.5,326.0 217.5,326.2 218.5,326.4 219.4,326.5 220.4,326.6 221.4,326.7 222.4,326.8 223.4,326.9 224.4,327.1 225.4,327.2 226.4,327.3 227.4,327.4 228.4,327.5" fill="none" stroke="#ff0000" stroke-width="8.10" stroke-linejoin="round" stroke-linecap="round"/>
<path d="M131.5,328.7 131.7,327.7 131.8,326.7 132.0,325.7 132.1,324.7 132.3,323.8 132.4,322.8 132.6,321.8 132.7,320.8 132.8,319.8 132.9,318.8 133.0,317.8 133.0,316.8 133.1,315.8 133.2,314.8 133.2,313.8 133.3,312.8 133.4,311.8 133.5,310.8 133.5,309.8 133.6,308.8 133.7,307.8 133.7,306.8 133.8,305.8 133.9,304.8 133.9,303.8 134.0,302.8 134.1,301.8 134.1,300.8 134.2,299.8 134.3,298.8 134.3,297.8 134.4,296.8 134.4,295.8 134.5,294.8 134.6,293.8 134.6,292.8 134.7,291.8 134.8,290.8 134.8,289.8 134.9,288.8 134.9,287.8 135.0,286.8 135.1,285.8 135.1,284.8 135.2,283.8 135.3,282.8 135.4,281.8 135.4,280.8 135.5,279.8 135.6,278.8 135.6,277.8 135.7,276.8 135.8,275.8 135.8,274.8 135.9,273.8 136.0,272.8 136.1,271.8 136.1,270.8 136.2,269.8 136.3,268.8 136.3,267.8 136.4,266.8 136.5,265.8 136.6,264.8 136.6,263.8 136.7,262.8 136.8,261.9 136.8,260.9 136.9,259.9 137.0,258.9 137.0,257.9 137.1,256.9 137.1,255.9 137.2,254.9 137.2,253.9 137.3,252.9 137.4,251.9 137.4,250.9 137.5,249.9 137.5,248.9 137.6,247.9 137.6,246.9 137.7,245.9 137.8,244.9 137.8,243.9 137.9,242.9 137.9,241.9 138.0,240.9 138.0,239.9 138.1,238.9 138.2,237.9 138.2,236.9 138.3,235.9 138.3,234.9 138.4,233.9 138.4,232.9 138.5,231.9 138.6,230.9 138.6,229.9 138.7,228.9 138.8,227.9 138.9,226.9 139.0,225.9 139.1,224.9 139.1,223.9 139.2,222.9 139.3,221.9 139.4,220.9 139.5,219.9 139.6,218.9 139.7,217.9 139.8,216.9 139.9,215.9 139.9,214.9 140.0,213.9 140.1,212.9 140.2,211.9 140.3,210.9 140.4,209.9 140.5,208.9 140.6,207.9 140.7,206.9 140.8,205.9 140.8,204.9 140.9,203.9 141.0,202.9 141.1,201.9 141.2,200.9 141.4,200.0 141.5,199.0 141.7,198.0 141.8,197.0 142.0,196.0 142.2,195.0 142.4,194.0 142.6,193.1 142.8,192.1 143.0,191.1 143.2,190.1 143.5,189.2 143.7,188.2 144.0,187.2 144.4,186.3 144.8,185.4 145.2,184.6 145.8,184.1 146.3,183.9 146.9,184.1 147.4,184.7 147.9,185.5 148.3,186.4 148.7,187.3 149.0,188.2 149.3,189.2 149.6,190.1 149.9,191.1 150.2,192.1 150.5,193.0 150.8,194.0 151.2,194.9 151.5,195.9 151.8,196.8 152.1,197.8 152.4,198.7 152.7,199.7 153.0,200.6 153.3,201.6 153.5,202.6 153.8,203.5 154.0,204.5 154.3,205.5 154.5,206.4 154.8,207.4 155.0,208.4 155.2,209.3 155.5,210.3 155.7,211.3 156.0,212.3 156.2,213.2 156.4,214.2 156.6,215.2 156.9,216.2 157.1,217.1 157.3,218.1 157.6,219.1 157.8,220.1 158.0,221.0 158.2,222.0 158.4,223.0 158.7,224.0 158.9,225.0 159.1,225.9 159.3,226.9 159.5,227.9 159.8,228.9 160.0,229.8 160.2,230.8 160.4,231.8 160.7,232.8 160.9,233.7 161.2,234.7 161.4,235.7 161.6,236.6 161.9,237.6 162.1,238.6 162.4,239.6 162.6,240.5 162.8,241.5 163.1,242.5 163.3,243.4 163.6,244.4 163.8,245.4 164.0,246.4 164.2,247.3 164.5,248.3 164.7,249.3 164.9,250.3 165.2,251.2 165.4,252.2 165.6,253.2 165.8,254.2 166.1,255.1 166.3,256.1 166.5,257.1 166.8,258.1 167.0,259.0 167.3,260.0 167.5,261.0 167.8,261.9 168.1,262.9 168.5,263.8 168.8,264.8 169.1,265.7 169.4,266.7 169.7,267.6 170.0,268.6 170.3,269.5 170.7,270.5 171.0,271.4 171.3,272.4 171.6,273.3 171.9,274.3 172.2,275.2 172.5,276.2 172.9,277.1 173.2,278.1 173.5,279.0 173.8,280.0 174.2,280.9 174.6,281.8 175.0,282.8 175.3,283.7 175.7,284.6 176.1,285.5 176.5,286.4 176.9,287.4 177.3,288.3 177.7,289.2 178.1,290.1 178.5,291.0 179.0,291.9 179.4,292.8 179.9,293.7 180.3,294.6 180.8,295.5 181.2,296.4 181.7,297.3 182.1,298.2 182.6,299.1 183.1,300.0 183.6,300.8 184.1,301.7 184.6,302.5 185.2,303.3 185.7,304.2 186.3,305.0 186.9,305.8 187.5,306.6 188.2,307.3 188.9,308.1 189.5,308.8 190.2,309.5 190.9,310.2 191.7,310.9 192.4,311.6 193.1,312.3 193.8,313.0 194.6,313.7 195.3,314.3 196.1,315.0 196.8,315.6 197.6,316.3 198.4,316.9 199.2,317.5 200.0,318.1 200.9,318.6 201.7,319.1 202.6,319.6 203.4,320.1 204.3,320.6 205.2,321.0 206.2,321.4 207.1,321.7 208.0,322.1 209.0,322.4 209.9,322.8 210.9,323.1 211.8,323.4 212.8,323.6 213.8,323.8 214.7,324.1 215.7,324.3 216.7,324.5 217.7,324.7 218.7,324.8 219.6,325.0 220.6,325.1 221.6,325.2 222.6,325.3 223.6,325.4 224.6,325.6 225.6,325.7 226.6,325.8 227.6,325.9 228.6,326.0" fill="none" stroke="#000" stroke-width="1.80" />
</g>
<g clip-path="url(#c11)">
<path d="M371.8,328.7 372.2,327.8 372.6,326.9 373.0,326.0 373.4,325.0 373.8,324.1 374.2,323.2 374.6,322.3 375.0,321.4 375.4,320.5 375.8,319.5 376.1,318.6 376.3,317.6 376.4,316.6 376.5,315.6 376.6,314.6 376.7,313.6 376.7,312.6 376.8,311.6 376.9,310.6 377.0,309.6 377.1,308.6 377.1,307.7 377.2,306.7 377.3,305.7 377.4,304.7 377.4,303.7 377.5,302.7 377.6,301.7 377.6,300.7 377.7,299.7 377.8,298.7 377.9,297.7 377.9,296.7 378.0,295.7 378.1,294.7 378.1,293.7 378.2,292.7 378.3,291.7 378.3,290.7 378.4,289.7 378.5,288.7 378.5,287.7 378.6,286.7 378.7,285.7 378.8,284.7 378.8,283.7 378.9,282.7 379.0,281.7 379.1,280.7 379.2,279.7 379.2,278.7 379.3,277.7 379.4,276.7 379.5,275.7 379.6,274.7 379.6,273.7 379.7,272.7 379.8,271.7 379.9,270.7 380.0,269.7 380.0,268.7 380.1,267.7 380.2,266.7 380.2,265.7 380.3,264.7 380.3,263.7 380.4,262.7 380.4,261.7 380.5,260.7 380.6,259.7 380.6,258.7 380.7,257.7 380.7,256.7 380.8,255.7 380.8,254.7 380.9,253.7 380.9,252.7 381.0,251.7 381.1,250.7 381.1,249.7 381.2,248.7 381.2,247.7 381.3,246.7 381.3,245.7 381.4,244.7 381.5,243.7 381.6,242.7 381.6,241.7 381.7,240.7 381.8,239.7 381.9,238.7 382.0,237.7 382.1,236.7 382.1,235.7 382.2,234.7 382.3,233.7 382.4,232.7 382.5,231.7 382.6,230.7 382.6,229.7 382.7,228.7 382.8,227.7 382.9,226.8 383.0,225.8 383.1,224.8 383.2,223.8 383.3,222.8 383.4,221.8 383.5,220.8 383.6,219.8 383.7,218.8 383.8,217.8 383.9,216.8 383.9,215.8 384.0,214.8 384.1,213.8 384.2,212.8 384.3,211.8 384.4,210.8 384.5,209.8 384.6,208.8 384.7,207.8 384.9,206.8 385.0,205.8 385.1,204.8 385.2,203.8 385.4,202.8 385.5,201.9 385.7,200.9 385.8,199.9 386.0,198.9 386.1,197.9 386.3,196.9 386.5,195.9 386.7,194.9 386.9,194.0 387.0,193.0 387.2,192.0 387.4,191.0 387.7,190.0 387.9,189.1 388.2,188.1 388.6,187.2 389.1,186.4 389.6,185.5 390.1,184.8 390.6,184.2 391.1,184.0 391.6,184.3 392.1,184.9 392.6,185.7 393.1,186.6 393.5,187.5 394.0,188.4 394.3,189.3 394.7,190.2 395.0,191.2 395.3,192.1 395.6,193.1 395.9,194.0 396.2,195.0 396.5,196.0 396.8,196.9 397.0,197.9 397.2,198.9 397.4,199.9 397.6,200.8 397.8,201.8 398.0,202.8 398.2,203.8 398.4,204.8 398.5,205.8 398.7,206.7 398.9,207.7 399.0,208.7 399.2,209.7 399.4,210.7 399.5,211.7 399.7,212.7 399.9,213.7 400.1,214.6 400.3,215.6 400.5,216.6 400.7,217.6 400.9,218.6 401.0,219.5 401.2,220.5 401.4,221.5 401.6,222.5 401.8,223.5 402.0,224.5 402.2,225.4 402.4,226.4 402.6,227.4 402.8,228.4 403.0,229.4 403.2,230.3 403.4,231.3 403.7,232.3 403.9,233.3 404.2,234.2 404.4,235.2 404.7,236.2 404.9,237.1 405.2,238.1 405.4,239.1 405.6,240.1 405.9,241.0 406.1,242.0 406.4,243.0 406.6,243.9 406.9,244.9 407.2,245.9 407.4,246.8 407.7,247.8 408.0,248.8 408.3,249.7 408.5,250.7 408.8,251.7 409.1,252.6 409.4,253.6 409.6,254.5 409.9,255.5 410.2,256.5 410.5,257.4 410.7,258.4 411.0,259.3 411.3,260.3 411.6,261.3 412.0,262.2 412.3,263.1 412.6,264.1 412.9,265.0 413.3,266.0 413.6,266.9 413.9,267.9 414.3,268.8 414.6,269.8 414.9,270.7 415.2,271.7 415.6,272.6 415.9,273.6 416.2,274.5 416.6,275.4 416.9,276.4 417.3,277.3 417.6,278.3 418.0,279.2 418.3,280.1 418.7,281.1 419.0,282.0 419.4,282.9 419.7,283.9 420.1,284.8 420.4,285.8 420.8,286.7 421.1,287.6 421.5,288.6 421.9,289.5 422.3,290.4 422.7,291.3 423.2,292.2 423.6,293.1 424.1,294.0 424.5,294.9 425.0,295.8 425.5,296.6 425.9,297.5 426.4,298.4 427.0,299.2 427.5,300.1 428.1,300.9 428.7,301.7 429.3,302.5 429.9,303.3 430.5,304.1 431.1,304.9 431.7,305.7 432.3,306.5 432.9,307.3 433.6,308.0 434.2,308.8 434.9,309.6 435.5,310.3 436.2,311.0 436.9,311.7 437.7,312.4 438.4,313.1 439.1,313.8 439.9,314.5 440.6,315.1 441.4,315.8 442.1,316.5 442.9,317.1 443.7,317.7 444.5,318.2 445.4,318.8 446.2,319.3 447.1,319.8 447.9,320.4 448.8,320.9 449.6,321.4 450.5,321.9 451.4,322.3 452.3,322.7 453.3,323.1 454.2,323.4 455.1,323.8 456.1,324.1 457.0,324.5 457.9,324.8 458.9,325.1 459.9,325.3 460.8,325.5 461.8,325.8 462.8,326.0 463.8,326.2 464.8,326.4 465.7,326.6 466.7,326.7 467.7,326.8 468.7,327.0 469.7,327.1 470.7,327.2 471.2,327.3" fill="none" stroke="#008000" stroke-width="8.10" stroke-linejoin="round" stroke-linecap="round"/>
<path d="M375.1,328.7 375.2,327.7 375.4,326.7 375.5,325.7 375.6,324.7 375.8,323.7 375.9,322.8 376.1,321.8 376.2,320.8 376.3,319.8 376.4,318.8 376.5,317.8 376.6,316.8 376.7,315.8 376.8,314.8 376.9,313.8 376.9,312.8 377.0,311.8 377.1,310.8 377.2,309.8 377.2,308.8 377.3,307.8 377.4,306.8 377.5,305.8 377.5,304.8 377.6,303.8 377.7,302.8 377.8,301.8 377.8,300.8 377.9,299.8 378.0,298.8 378.0,297.8 378.1,296.8 378.2,295.8 378.2,294.8 378.3,293.8 378.4,292.8 378.5,291.8 378.5,290.8 378.6,289.9 378.7,288.9 378.7,287.9 378.8,286.9 378.9,285.9 378.9,284.9 379.0,283.9 379.1,282.9 379.2,281.9 379.3,280.9 379.3,279.9 379.4,278.9 379.5,277.9 379.6,276.9 379.7,275.9 379.7,274.9 379.8,273.9 379.9,272.9 380.0,271.9 380.1,270.9 380.1,269.9 380.2,268.9 380.3,267.9 380.4,266.9 380.4,265.9 380.5,264.9 380.5,263.9 380.6,262.9 380.6,261.9 380.7,260.9 380.7,259.9 380.8,258.9 380.9,257.9 380.9,256.9 381.0,255.9 381.0,254.9 381.1,253.9 381.1,252.9 381.2,251.9 381.2,250.9 381.3,249.9 381.4,248.9 381.4,247.9 381.5,246.9 381.5,245.9 381.6,244.9 381.7,243.9 381.7,242.9 381.8,241.9 381.9,240.9 382.0,239.9 382.1,238.9 382.2,237.9 382.2,237.0 382.3,236.0 382.4,235.0 382.5,234.0 382.6,233.0 382.7,232.0 382.7,231.0 382.8,230.0 382.9,229.0 383.0,228.0 383.1,227.0 383.2,226.0 383.3,225.0 383.4,224.0 383.5,223.0 383.6,222.0 383.7,221.0 383.7,220.0 383.8,219.0 383.9,218.0 384.0,217.0 384.1,216.0 384.2,215.0 384.3,214.0 384.4,213.0 384.5,212.0 384.6,211.0 384.7,210.1 384.8,209.1 384.9,208.1 385.0,207.1 385.1,206.1 385.3,205.1 385.4,204.1 385.6,203.1 385.7,202.1 385.9,201.1 386.0,200.1 386.2,199.1 386.3,198.2 386.5,197.2 386.6,196.2 386.8,195.2 387.0,194.2 387.2,193.2 387.4,192.3 387.6,191.3 387.8,190.3 388.0,189.3 388.3,188.4 388.7,187.5 389.2,186.6 389.7,185.8 390.2,185.0 390.7,184.3 391.2,184.0 391.7,184.2 392.2,184.7 392.7,185.5 393.2,186.3 393.6,187.2 394.0,188.1 394.4,189.0 394.8,190.0 395.1,190.9 395.4,191.9 395.8,192.8 396.1,193.8 396.4,194.7 396.7,195.7 397.0,196.6 397.3,197.6 397.5,198.6 397.8,199.5 398.0,200.5 398.3,201.5 398.5,202.4 398.8,203.4 399.0,204.4 399.3,205.3 399.5,206.3 399.7,207.3 399.9,208.3 400.2,209.2 400.4,210.2 400.6,211.2 400.8,212.2 401.1,213.1 401.3,214.1 401.5,215.1 401.7,216.1 401.9,217.0 402.2,218.0 402.4,219.0 402.6,220.0 402.8,220.9 403.1,221.9 403.3,222.9 403.5,223.9 403.7,224.8 403.9,225.8 404.2,226.8 404.4,227.8 404.6,228.7 404.8,229.7 405.1,230.7 405.3,231.7 405.6,232.6 405.8,233.6 406.1,234.6 406.3,235.5 406.5,236.5 406.8,237.5 407.0,238.5 407.3,239.4 407.5,240.4 407.8,241.4 408.0,242.3 408.3,243.3 408.5,244.3 408.8,245.2 409.0,246.2 409.3,247.2 409.6,248.1 409.9,249.1 410.1,250.0 410.4,251.0 410.7,252.0 411.0,252.9 411.2,253.9 411.5,254.9 411.8,255.8 412.1,256.8 412.4,257.7 412.6,258.7 412.9,259.7 413.2,260.6 413.5,261.6 413.9,262.5 414.2,263.5 414.5,264.4 414.9,265.3 415.2,266.3 415.5,267.2 415.8,268.2 416.2,269.1 416.5,270.1 416.8,271.0 417.1,272.0 417.5,272.9 417.8,273.9 418.1,274.8 418.5,275.7 418.8,276.7 419.2,277.6 419.5,278.5 419.9,279.5 420.2,280.4 420.6,281.4 420.9,282.3 421.3,283.2 421.6,284.2 422.0,285.1 422.3,286.0 422.7,287.0 423.0,287.9 423.4,288.8 423.8,289.8 424.2,290.7 424.6,291.6 425.1,292.5 425.6,293.4 426.0,294.2 426.5,295.1 426.9,296.0 427.4,296.9 427.9,297.8 428.4,298.6 428.9,299.5 429.5,300.3 430.1,301.1 430.7,301.9 431.3,302.7 431.9,303.5 432.5,304.3 433.1,305.1 433.8,305.9 434.4,306.6 435.1,307.4 435.7,308.1 436.4,308.8 437.1,309.6 437.8,310.3 438.5,311.0 439.2,311.7 439.9,312.4 440.6,313.1 441.3,313.8 442.1,314.5 442.8,315.2 443.6,315.8 444.4,316.4 445.2,317.0 446.0,317.5 446.9,318.0 447.7,318.6 448.6,319.1 449.4,319.7 450.3,320.1 451.2,320.6 452.1,321.0 453.0,321.4 453.9,321.7 454.9,322.1 455.8,322.5 456.7,322.8 457.7,323.1 458.6,323.4 459.6,323.7 460.6,323.9 461.5,324.1 462.5,324.4 463.5,324.6 464.5,324.8 465.5,325.0 466.4,325.1 467.4,325.3 468.4,325.4 469.4,325.5 470.4,325.7 471.4,325.8" fill="none" stroke="#000" stroke-width="1.80" stroke-dasharray="6.8,3.0"/>
</g>
<g clip-path="url(#c12)">
<path d="M614.8,328.7 615.2,327.8 615.6,326.8 615.9,325.9 616.3,325.0 616.7,324.1 617.1,323.1 617.5,322.2 617.8,321.3 618.2,320.4 618.5,319.4 618.8,318.5 619.0,317.5 619.1,316.5 619.2,315.5 619.3,314.5 619.4,313.5 619.5,312.5 619.5,311.5 619.6,310.5 619.7,309.5 619.8,308.5 619.8,307.5 619.9,306.6 620.0,305.6 620.1,304.6 620.1,303.6 620.2,302.6 620.3,301.6 620.4,300.6 620.4,299.6 620.5,298.6 620.6,297.6 620.7,296.6 620.7,295.6 620.8,294.6 620.9,293.6 621.0,292.6 621.0,291.6 621.1,290.6 621.2,289.6 621.3,288.6 621.3,287.6 621.4,286.6 621.5,285.6 621.6,284.6 621.7,283.6 621.8,282.6 621.8,281.6 621.9,280.6 622.0,279.6 622.1,278.6 622.2,277.6 622.3,276.6 622.4,275.6 622.5,274.6 622.6,273.6 622.7,272.6 622.7,271.6 622.8,270.6 622.9,269.7 623.0,268.7 623.0,267.7 623.1,266.7 623.2,265.7 623.2,264.7 623.3,263.7 623.4,262.7 623.4,261.7 623.5,260.7 623.6,259.7 623.6,258.7 623.7,257.7 623.7,256.7 623.8,255.7 623.9,254.7 623.9,253.7 624.0,252.7 624.1,251.7 624.1,250.7 624.2,249.7 624.2,248.7 624.3,247.7 624.4,246.7 624.4,245.7 624.5,244.7 624.6,243.7 624.7,242.7 624.7,241.7 624.8,240.7 624.9,239.7 625.0,238.7 625.0,237.7 625.1,236.7 625.2,235.7 625.3,234.7 625.4,233.7 625.4,232.7 625.5,231.7 625.6,230.7 625.7,229.7 625.8,228.7 625.9,227.7 626.0,226.7 626.1,225.7 626.2,224.7 626.3,223.8 626.4,222.8 626.5,221.8 626.6,220.8 626.7,219.8 626.9,218.8 627.0,217.8 627.1,216.8 627.2,215.8 627.3,214.8 627.4,213.8 627.5,212.8 627.7,211.8 627.8,210.8 628.0,209.8 628.1,208.9 628.3,207.9 628.4,206.9 628.6,205.9 628.8,204.9 629.0,203.9 629.2,202.9 629.3,202.0 629.5,201.0 629.7,200.0 629.8,199.0 630.0,198.0 630.1,197.0 630.3,196.0 630.4,195.0 630.6,194.1 630.7,193.1 631.0,192.1 631.2,191.1 631.5,190.2 631.7,189.2 632.0,188.3 632.4,187.4 632.9,186.6 633.5,186.1 634.2,185.8 634.9,185.9 635.6,186.4 636.2,187.1 636.8,187.9 637.3,188.7 637.7,189.6 638.2,190.5 638.6,191.4 639.0,192.3 639.3,193.3 639.7,194.2 640.0,195.2 640.3,196.1 640.6,197.1 640.8,198.0 641.1,199.0 641.4,200.0 641.7,200.9 642.0,201.9 642.2,202.8 642.5,203.8 642.8,204.8 643.0,205.7 643.3,206.7 643.6,207.7 643.8,208.6 644.1,209.6 644.4,210.6 644.6,211.5 644.9,212.5 645.1,213.5 645.4,214.4 645.6,215.4 645.8,216.4 646.1,217.3 646.3,218.3 646.6,219.3 646.8,220.3 647.0,221.2 647.3,222.2 647.5,223.2 647.7,224.2 647.9,225.1 648.1,226.1 648.4,227.1 648.6,228.1 648.8,229.0 649.0,230.0 649.3,231.0 649.5,232.0 649.7,232.9 650.0,233.9 650.2,234.9 650.5,235.8 650.7,236.8 650.9,237.8 651.2,238.8 651.4,239.7 651.7,240.7 651.9,241.7 652.1,242.7 652.3,243.6 652.6,244.6 652.8,245.6 653.0,246.6 653.2,247.5 653.5,248.5 653.7,249.5 653.9,250.4 654.2,251.4 654.4,252.4 654.6,253.4 654.9,254.3 655.1,255.3 655.4,256.3 655.6,257.2 655.9,258.2 656.1,259.2 656.4,260.1 656.6,261.1 656.9,262.1 657.2,263.0 657.5,264.0 657.8,264.9 658.1,265.9 658.4,266.9 658.6,267.8 658.9,268.8 659.2,269.7 659.5,270.7 659.8,271.6 660.2,272.6 660.5,273.5 660.8,274.5 661.1,275.4 661.4,276.4 661.7,277.3 662.0,278.3 662.4,279.2 662.7,280.2 663.0,281.1 663.4,282.1 663.7,283.0 664.1,283.9 664.4,284.9 664.8,285.8 665.1,286.8 665.5,287.7 665.8,288.6 666.2,289.6 666.6,290.5 667.0,291.4 667.5,292.3 667.9,293.2 668.4,294.0 668.9,294.9 669.3,295.8 669.8,296.7 670.2,297.6 670.7,298.5 671.2,299.3 671.7,300.2 672.2,301.1 672.7,301.9 673.3,302.8 673.8,303.6 674.4,304.4 674.9,305.3 675.5,306.1 676.0,306.9 676.6,307.8 677.1,308.6 677.7,309.4 678.3,310.2 679.0,310.9 679.7,311.6 680.5,312.3 681.2,313.0 681.9,313.7 682.6,314.4 683.4,315.0 684.1,315.7 684.9,316.4 685.6,317.0 686.4,317.6 687.3,318.1 688.2,318.5 689.1,319.0 690.0,319.4 690.9,319.8 691.8,320.3 692.7,320.7 693.6,321.1 694.5,321.6 695.4,322.0 696.3,322.4 697.2,322.7 698.2,322.9 699.2,323.1 700.2,323.3 701.2,323.5 702.1,323.6 703.1,323.8 704.1,323.9 705.1,324.1 706.1,324.2 707.1,324.4 708.1,324.6 709.1,324.7 710.0,324.9 711.0,325.0 712.0,325.2 713.0,325.3 714.0,325.5" fill="none" stroke="#00ffff" stroke-width="8.10" stroke-linejoin="round" stroke-linecap="round"/>
<path d="M618.6,328.7 618.7,327.7 618.9,326.7 619.0,325.7 619.1,324.7 619.3,323.7 619.4,322.8 619.6,321.8 619.7,320.8 619.8,319.8 619.9,318.8 620.0,317.8 620.1,316.8 620.2,315.8 620.3,314.8 620.4,313.8 620.4,312.8 620.5,311.8 620.6,310.8 620.7,309.8 620.7,308.8 620.8,307.8 620.9,306.8 621.0,305.8 621.0,304.8 621.1,303.8 621.2,302.8 621.3,301.8 621.3,300.8 621.4,299.8 621.5,298.8 621.5,297.8 621.6,296.8 621.7,295.8 621.7,294.8 621.8,293.8 621.9,292.8 622.0,291.8 622.0,290.9 622.1,289.9 622.2,288.9 622.2,287.9 622.3,286.9 622.4,285.9 622.5,284.9 622.5,283.9 622.6,282.9 622.7,281.9 622.8,280.9 622.9,279.9 623.0,278.9 623.1,277.9 623.2,276.9 623.3,275.9 623.4,274.9 623.4,273.9 623.5,272.9 623.6,271.9 623.7,270.9 623.8,269.9 623.9,268.9 623.9,267.9 624.0,266.9 624.1,265.9 624.1,264.9 624.2,263.9 624.3,262.9 624.3,261.9 624.4,260.9 624.5,259.9 624.5,258.9 624.6,257.9 624.7,256.9 624.7,255.9 624.8,254.9 624.9,253.9 624.9,252.9 625.0,251.9 625.1,250.9 625.1,250.0 625.2,249.0 625.3,248.0 625.3,247.0 625.4,246.0 625.5,245.0 625.6,244.0 625.6,243.0 625.7,242.0 625.8,241.0 625.9,240.0 625.9,239.0 626.0,238.0 626.1,237.0 626.2,236.0 626.3,235.0 626.3,234.0 626.4,233.0 626.5,232.0 626.6,231.0 626.7,230.0 626.8,229.0 626.8,228.0 626.9,227.0 627.0,226.0 627.1,225.0 627.2,224.0 627.4,223.0 627.5,222.0 627.6,221.0 627.7,220.0 627.8,219.0 627.9,218.1 628.0,217.1 628.1,216.1 628.2,215.1 628.3,214.1 628.4,213.1 628.5,212.1 628.7,211.1 628.8,210.1 629.0,209.1 629.1,208.1 629.3,207.1 629.5,206.2 629.6,205.2 629.8,204.2 630.0,203.2 630.2,202.2 630.4,201.2 630.5,200.3 630.7,199.3 630.8,198.3 631.0,197.3 631.1,196.3 631.2,195.3 631.4,194.3 631.5,193.3 631.7,192.3 631.9,191.4 632.1,190.4 632.3,189.4 632.5,188.4 632.8,187.5 633.1,186.5 633.4,185.6 633.9,184.8 634.4,184.1 635.0,183.8 635.6,183.8 636.2,184.2 636.8,184.9 637.3,185.7 637.8,186.6 638.2,187.5 638.6,188.4 638.9,189.4 639.3,190.3 639.6,191.2 640.0,192.2 640.3,193.1 640.6,194.1 640.9,195.0 641.2,196.0 641.5,196.9 641.8,197.9 642.1,198.9 642.4,199.8 642.7,200.8 642.9,201.7 643.2,202.7 643.5,203.7 643.8,204.6 644.0,205.6 644.3,206.6 644.5,207.5 644.8,208.5 645.0,209.5 645.3,210.4 645.6,211.4 645.8,212.4 646.0,213.3 646.2,214.3 646.5,215.3 646.7,216.3 646.9,217.2 647.2,218.2 647.4,219.2 647.6,220.2 647.8,221.1 648.0,222.1 648.3,223.1 648.5,224.1 648.7,225.0 648.9,226.0 649.1,227.0 649.4,228.0 649.6,228.9 649.8,229.9 650.0,230.9 650.3,231.9 650.5,232.8 650.8,233.8 651.0,234.8 651.2,235.7 651.5,236.7 651.7,237.7 652.0,238.7 652.2,239.6 652.4,240.6 652.7,241.6 652.9,242.5 653.2,243.5 653.4,244.5 653.7,245.5 653.9,246.4 654.1,247.4 654.4,248.4 654.7,249.3 654.9,250.3 655.2,251.3 655.5,252.2 655.8,253.2 656.1,254.1 656.4,255.1 656.7,256.0 657.0,257.0 657.3,257.9 657.6,258.9 657.9,259.9 658.2,260.8 658.5,261.8 658.8,262.7 659.1,263.6 659.5,264.6 659.8,265.5 660.1,266.5 660.4,267.4 660.8,268.4 661.1,269.3 661.4,270.3 661.7,271.2 662.0,272.2 662.3,273.1 662.6,274.1 663.0,275.0 663.3,276.0 663.6,276.9 663.9,277.9 664.2,278.8 664.6,279.8 665.0,280.7 665.4,281.6 665.8,282.5 666.2,283.4 666.6,284.3 667.1,285.2 667.5,286.1 667.9,287.0 668.3,287.9 668.8,288.8 669.2,289.7 669.7,290.6 670.1,291.5 670.6,292.4 671.1,293.3 671.6,294.1 672.1,295.0 672.5,295.9 673.0,296.8 673.5,297.6 674.0,298.5 674.5,299.4 675.0,300.2 675.6,301.1 676.1,301.9 676.7,302.7 677.3,303.5 677.9,304.4 678.4,305.2 679.0,306.0 679.6,306.8 680.1,307.6 680.7,308.4 681.3,309.2 682.0,310.0 682.7,310.7 683.4,311.4 684.2,312.0 684.9,312.7 685.7,313.3 686.5,314.0 687.2,314.6 688.0,315.3 688.8,315.9 689.5,316.5 690.4,317.1 691.2,317.6 692.1,318.0 693.0,318.5 693.9,318.9 694.8,319.3 695.7,319.8 696.6,320.2 697.5,320.6 698.4,321.0 699.4,321.4 700.3,321.7 701.3,321.9 702.3,322.1 703.2,322.3 704.2,322.5 705.2,322.7 706.2,322.9 707.1,323.2 708.1,323.4 709.1,323.6 710.1,323.8 711.1,324.0 712.0,324.2 713.0,324.4 714.0,324.6" fill="none" stroke="#000" stroke-width="1.80" stroke-dasharray="11.8,2.9,1.8,2.9"/>
</g>
<path d="M55.40,160.80v-2.20M55.40,1.50v2.20M63.98,160.80v-2.20M63.98,1.50v2.20M70.63,160.80v-2.20M70.63,1.50v2.20M76.07,160.80v-2.20M76.07,1.50v2.20M80.66,160.80v-2.20M80.66,1.50v2.20M84.64,160.80v-2.20M84.64,1.50v2.20M88.16,160.80v-2.20M88.16,1.50v2.20M91.30,160.80v-3.60M91.30,1.50v3.60M111.96,160.80v-2.20M111.96,1.50v2.20M124.05,160.80v-2.20M124.05,1.50v2.20M132.63,160.80v-2.20M132.63,1.50v2.20M139.28,160.80v-2.20M139.28,1.50v2.20M144.72,160.80v-2.20M144.72,1.50v2.20M149.31,160.80v-2.20M149.31,1.50v2.20M153.30,160.80v-2.20M153.30,1.50v2.20M156.81,160.80v-2.20M156.81,1.50v2.20M159.95,160.80v-3.60M159.95,1.50v3.60M180.61,160.80v-2.20M180.61,1.50v2.20M192.70,160.80v-2.20M192.70,1.50v2.20M201.28,160.80v-2.20M201.28,1.50v2.20M207.93,160.80v-2.20M207.93,1.50v2.20M213.37,160.80v-2.20M213.37,1.50v2.20M217.97,160.80v-2.20M217.97,1.50v2.20M221.95,160.80v-2.20M221.95,1.50v2.20M225.46,160.80v-2.20M225.46,1.50v2.20M55.40,161.20h3.60M228.60,161.20h-3.60M55.40,152.02h2.20M228.60,152.02h-2.20M55.40,142.85h2.20M228.60,142.85h-2.20M55.40,133.67h2.20M228.60,133.67h-2.20M55.40,124.50h3.60M228.60,124.50h-3.60M55.40,115.32h2.20M228.60,115.32h-2.20M55.40,106.15h2.20M228.60,106.15h-2.20M55.40,96.97h2.20M228.60,96.97h-2.20M55.40,87.80h3.60M228.60,87.80h-3.60M55.40,78.62h2.20M228.60,78.62h-2.20M55.40,69.45h2.20M228.60,69.45h-2.20M55.40,60.27h2.20M228.60,60.27h-2.20M55.40,51.10h3.60M228.60,51.10h-3.60M55.40,41.92h2.20M228.60,41.92h-2.20M55.40,32.75h2.20M228.60,32.75h-2.20M55.40,23.57h2.20M228.60,23.57h-2.20M55.40,14.40h3.60M228.60,14.40h-3.60M55.40,5.22h2.20M228.60,5.22h-2.20" stroke="#1a1a1a" stroke-width="1.0" fill="none"/>
<rect x="55.40" y="1.50" width="173.20" height="159.30" fill="none" stroke="#1a1a1a" stroke-width="1.35"/>
<text transform="matrix(1 0 0 1.110 0 -17.765)" x="37.80" y="167.38" font-size="17.4" text-anchor="end" fill="#111">0.00</text>
<text transform="matrix(1 0 0 1.110 0 -13.728)" x="37.80" y="130.68" font-size="17.4" text-anchor="end" fill="#111">3.00</text>
<text transform="matrix(1 0 0 1.110 0 -9.691)" x="37.80" y="93.98" font-size="17.4" text-anchor="end" fill="#111">6.00</text>
<text transform="matrix(1 0 0 1.110 0 -5.654)" x="37.80" y="57.28" font-size="17.4" text-anchor="end" fill="#111">9.00</text>
<text transform="matrix(1 0 0 1.110 0 -1.617)" x="37.80" y="20.58" font-size="17.4" text-anchor="end" fill="#111">12.00</text>
<path d="M158.80,23.00h19.3" stroke="#000" stroke-width="1.80"/>
<g transform="translate(192.60,17.30)" fill="none" stroke="#000" stroke-linecap="round">
<path d="M9.0,2.3 C9.3,1.0 8.2,0.2 6.8,0.3 C4.8,0.4 2.4,1.4 2.4,3.0 C2.4,4.3 3.8,5.1 5.4,5.2" stroke-width="1.15"/>
<path d="M5.4,5.2 C3.2,5.2 0.5,6.6 0.5,9.0 C0.5,10.8 1.9,11.5 3.6,11.5 C5.3,11.5 7.0,10.7 8.1,9.5" stroke-width="1.50"/>
</g>
<text x="201.20" y="31.50" font-size="12.5" fill="#111">ps</text>
<path d="M298.00,160.80v-2.20M298.00,1.50v2.20M309.88,160.80v-2.20M309.88,1.50v2.20M319.09,160.80v-2.20M319.09,1.50v2.20M326.62,160.80v-2.20M326.62,1.50v2.20M332.98,160.80v-2.20M332.98,1.50v2.20M338.50,160.80v-2.20M338.50,1.50v2.20M343.36,160.80v-2.20M343.36,1.50v2.20M347.71,160.80v-3.60M347.71,1.50v3.60M376.33,160.80v-2.20M376.33,1.50v2.20M393.07,160.80v-2.20M393.07,1.50v2.20M404.95,160.80v-2.20M404.95,1.50v2.20M414.16,160.80v-2.20M414.16,1.50v2.20M421.69,160.80v-2.20M421.69,1.50v2.20M428.05,160.80v-2.20M428.05,1.50v2.20M433.57,160.80v-2.20M433.57,1.50v2.20M438.43,160.80v-2.20M438.43,1.50v2.20M442.78,160.80v-3.60M442.78,1.50v3.60M471.40,160.80v-2.20M471.40,1.50v2.20M298.00,2.37h2.20M471.40,2.37h-2.20M298.00,11.05h2.20M471.40,11.05h-2.20M298.00,19.72h2.20M471.40,19.72h-2.20M298.00,28.40h3.60M471.40,28.40h-3.60M298.00,37.08h2.20M471.40,37.08h-2.20M298.00,45.75h2.20M471.40,45.75h-2.20M298.00,54.42h2.20M471.40,54.42h-2.20M298.00,63.10h3.60M471.40,63.10h-3.60M298.00,71.78h2.20M471.40,71.78h-2.20M298.00,80.45h2.20M471.40,80.45h-2.20M298.00,89.12h2.20M471.40,89.12h-2.20M298.00,97.80h3.60M471.40,97.80h-3.60M298.00,106.47h2.20M471.40,106.47h-2.20M298.00,115.15h2.20M471.40,115.15h-2.20M298.00,123.83h2.20M471.40,123.83h-2.20M298.00,132.50h3.60M471.40,132.50h-3.60M298.00,141.18h2.20M471.40,141.18h-2.20M298.00,149.85h2.20M471.40,149.85h-2.20M298.00,158.53h2.20M471.40,158.53h-2.20" stroke="#1a1a1a" stroke-width="1.0" fill="none"/>
<rect x="298.00" y="1.50" width="173.40" height="159.30" fill="none" stroke="#1a1a1a" stroke-width="1.35"/>
<text transform="matrix(1 0 0 1.110 0 -3.157)" x="280.60" y="34.58" font-size="17.4" text-anchor="end" fill="#111">1.50</text>
<text transform="matrix(1 0 0 1.110 0 -6.974)" x="280.60" y="69.28" font-size="17.4" text-anchor="end" fill="#111">0.00</text>
<text transform="matrix(1 0 0 1.110 0 -10.791)" x="280.60" y="103.98" font-size="17.4" text-anchor="end" fill="#111">-1.50</text>
<text transform="matrix(1 0 0 1.110 0 -14.608)" x="280.60" y="138.68" font-size="17.4" text-anchor="end" fill="#111">-3.00</text>
<path d="M313.50,22.90h16.6" stroke="#000" stroke-width="1.80" stroke-dasharray="7.2,1.9"/>
<g transform="translate(346.30,17.20)" fill="none" stroke="#000" stroke-linecap="round">
<path d="M2.8,1.6 C4.8,0.4 7.8,1.4 10.0,0.9 C11.6,0.6 13.0,0.3 14.2,0.0" stroke-width="1.30"/>
<path d="M7.0,1.3 C6.6,4.0 5.9,8.0 4.6,10.4 C3.6,12.0 1.6,12.3 0.5,11.1" stroke-width="1.30"/>
<path d="M6.2,6.6 L10.7,5.9" stroke-width="1.20"/>
</g>
<text x="358.30" y="31.60" font-size="12.5" fill="#111">ps</text>
<path d="M540.80,160.80v-2.20M540.80,1.50v2.20M552.66,160.80v-2.20M552.66,1.50v2.20M561.87,160.80v-2.20M561.87,1.50v2.20M569.39,160.80v-2.20M569.39,1.50v2.20M575.74,160.80v-2.20M575.74,1.50v2.20M581.25,160.80v-2.20M581.25,1.50v2.20M586.11,160.80v-2.20M586.11,1.50v2.20M590.45,160.80v-3.60M590.45,1.50v3.60M619.04,160.80v-2.20M619.04,1.50v2.20M635.76,160.80v-2.20M635.76,1.50v2.20M647.63,160.80v-2.20M647.63,1.50v2.20M656.83,160.80v-2.20M656.83,1.50v2.20M664.35,160.80v-2.20M664.35,1.50v2.20M670.70,160.80v-2.20M670.70,1.50v2.20M676.21,160.80v-2.20M676.21,1.50v2.20M681.07,160.80v-2.20M681.07,1.50v2.20M685.41,160.80v-3.60M685.41,1.50v3.60M714.00,160.80v-2.20M714.00,1.50v2.20M540.80,161.20h3.60M714.00,161.20h-3.60M540.80,152.02h2.20M714.00,152.02h-2.20M540.80,142.85h2.20M714.00,142.85h-2.20M540.80,133.67h2.20M714.00,133.67h-2.20M540.80,124.50h3.60M714.00,124.50h-3.60M540.80,115.32h2.20M714.00,115.32h-2.20M540.80,106.15h2.20M714.00,106.15h-2.20M540.80,96.97h2.20M714.00,96.97h-2.20M540.80,87.80h3.60M714.00,87.80h-3.60M540.80,78.62h2.20M714.00,78.62h-2.20M540.80,69.45h2.20M714.00,69.45h-2.20M540.80,60.27h2.20M714.00,60.27h-2.20M540.80,51.10h3.60M714.00,51.10h-3.60M540.80,41.92h2.20M714.00,41.92h-2.20M540.80,32.75h2.20M714.00,32.75h-2.20M540.80,23.57h2.20M714.00,23.57h-2.20M540.80,14.40h3.60M714.00,14.40h-3.60M540.80,5.22h2.20M714.00,5.22h-2.20" stroke="#1a1a1a" stroke-width="1.0" fill="none"/>
<rect x="540.80" y="1.50" width="173.20" height="159.30" fill="none" stroke="#1a1a1a" stroke-width="1.35"/>
<text transform="matrix(1 0 0 1.110 0 -13.728)" x="522.30" y="130.68" font-size="17.4" text-anchor="end" fill="#111">0.80</text>
<text transform="matrix(1 0 0 1.110 0 -9.691)" x="522.30" y="93.98" font-size="17.4" text-anchor="end" fill="#111">1.60</text>
<text transform="matrix(1 0 0 1.110 0 -5.654)" x="522.30" y="57.28" font-size="17.4" text-anchor="end" fill="#111">2.40</text>
<text transform="matrix(1 0 0 1.110 0 -1.617)" x="522.30" y="20.58" font-size="17.4" text-anchor="end" fill="#111">3.20</text>
<path d="M641.80,23.20h16.0" stroke="#000" stroke-width="1.80" stroke-dasharray="11.8,2.7,1.5,10"/>
<g transform="translate(673.90,17.60)" fill="none" stroke="#000" stroke-linecap="round">
<path d="M0.3,3.0 C1.5,1.0 4.0,0.2 7.0,0.1 C10.5,0.0 13.0,1.2 12.8,3.2 C12.5,5.8 9.0,7.6 5.8,7.2" stroke-width="1.30"/>
<path d="M5.9,1.3 C5.3,5.0 4.2,9.0 2.6,12.4" stroke-width="1.35"/>
</g>
<text x="686.20" y="31.80" font-size="12.5" fill="#111">ps</text>
<path d="M55.40,328.70v-2.20M55.40,169.10v2.20M63.98,328.70v-2.20M63.98,169.10v2.20M70.63,328.70v-2.20M70.63,169.10v2.20M76.07,328.70v-2.20M76.07,169.10v2.20M80.66,328.70v-2.20M80.66,169.10v2.20M84.64,328.70v-2.20M84.64,169.10v2.20M88.16,328.70v-2.20M88.16,169.10v2.20M91.30,328.70v-3.60M91.30,169.10v3.60M111.96,328.70v-2.20M111.96,169.10v2.20M124.05,328.70v-2.20M124.05,169.10v2.20M132.63,328.70v-2.20M132.63,169.10v2.20M139.28,328.70v-2.20M139.28,169.10v2.20M144.72,328.70v-2.20M144.72,169.10v2.20M149.31,328.70v-2.20M149.31,169.10v2.20M153.30,328.70v-2.20M153.30,169.10v2.20M156.81,328.70v-2.20M156.81,169.10v2.20M159.95,328.70v-3.60M159.95,169.10v3.60M180.61,328.70v-2.20M180.61,169.10v2.20M192.70,328.70v-2.20M192.70,169.10v2.20M201.28,328.70v-2.20M201.28,169.10v2.20M207.93,328.70v-2.20M207.93,169.10v2.20M213.37,328.70v-2.20M213.37,169.10v2.20M217.97,328.70v-2.20M217.97,169.10v2.20M221.95,328.70v-2.20M221.95,169.10v2.20M225.46,328.70v-2.20M225.46,169.10v2.20M55.40,328.70h3.60M228.60,328.70h-3.60M55.40,318.66h2.20M228.60,318.66h-2.20M55.40,308.62h2.20M228.60,308.62h-2.20M55.40,298.57h2.20M228.60,298.57h-2.20M55.40,288.53h3.60M228.60,288.53h-3.60M55.40,278.49h2.20M228.60,278.49h-2.20M55.40,268.44h2.20M228.60,268.44h-2.20M55.40,258.40h2.20M228.60,258.40h-2.20M55.40,248.36h3.60M228.60,248.36h-3.60M55.40,238.32h2.20M228.60,238.32h-2.20M55.40,228.27h2.20M228.60,228.27h-2.20M55.40,218.23h2.20M228.60,218.23h-2.20M55.40,208.19h3.60M228.60,208.19h-3.60M55.40,198.15h2.20M228.60,198.15h-2.20M55.40,188.10h2.20M228.60,188.10h-2.20M55.40,178.06h2.20M228.60,178.06h-2.20" stroke="#1a1a1a" stroke-width="1.0" fill="none"/>
<rect x="55.40" y="169.10" width="173.20" height="159.60" fill="none" stroke="#1a1a1a" stroke-width="1.35"/>
<text transform="matrix(1 0 0 1.110 0 -36.256)" x="43.90" y="335.48" font-size="17.4" text-anchor="end" fill="#111">0.00</text>
<text transform="matrix(1 0 0 1.110 0 -31.837)" x="43.90" y="295.31" font-size="17.4" text-anchor="end" fill="#111">0.01</text>
<text transform="matrix(1 0 0 1.110 0 -27.419)" x="43.90" y="255.14" font-size="17.4" text-anchor="end" fill="#111">0.03</text>
<text transform="matrix(1 0 0 1.110 0 -23.000)" x="43.90" y="214.97" font-size="17.4" text-anchor="end" fill="#111">0.04</text>
<path d="M70.10,191.10h19.3" stroke="#000" stroke-width="1.80"/>
<g transform="translate(103.90,185.20)" fill="none" stroke="#000" stroke-linecap="round">
<path d="M9.0,2.3 C9.3,1.0 8.2,0.2 6.8,0.3 C4.8,0.4 2.4,1.4 2.4,3.0 C2.4,4.3 3.8,5.1 5.4,5.2" stroke-width="1.15"/>
<path d="M5.4,5.2 C3.2,5.2 0.5,6.6 0.5,9.0 C0.5,10.8 1.9,11.5 3.6,11.5 C5.3,11.5 7.0,10.7 8.1,9.5" stroke-width="1.50"/>
</g>
<text x="112.30" y="199.90" font-size="12.5" fill="#111">sk</text>
<path d="M298.00,328.70v-2.20M298.00,169.10v2.20M306.59,328.70v-2.20M306.59,169.10v2.20M313.25,328.70v-2.20M313.25,169.10v2.20M318.69,328.70v-2.20M318.69,169.10v2.20M323.29,328.70v-2.20M323.29,169.10v2.20M327.28,328.70v-2.20M327.28,169.10v2.20M330.79,328.70v-2.20M330.79,169.10v2.20M333.94,328.70v-3.60M333.94,169.10v3.60M354.63,328.70v-2.20M354.63,169.10v2.20M366.73,328.70v-2.20M366.73,169.10v2.20M375.32,328.70v-2.20M375.32,169.10v2.20M381.98,328.70v-2.20M381.98,169.10v2.20M387.42,328.70v-2.20M387.42,169.10v2.20M392.02,328.70v-2.20M392.02,169.10v2.20M396.01,328.70v-2.20M396.01,169.10v2.20M399.52,328.70v-2.20M399.52,169.10v2.20M402.67,328.70v-3.60M402.67,169.10v3.60M423.36,328.70v-2.20M423.36,169.10v2.20M435.46,328.70v-2.20M435.46,169.10v2.20M444.05,328.70v-2.20M444.05,169.10v2.20M450.71,328.70v-2.20M450.71,169.10v2.20M456.15,328.70v-2.20M456.15,169.10v2.20M460.75,328.70v-2.20M460.75,169.10v2.20M464.74,328.70v-2.20M464.74,169.10v2.20M468.26,328.70v-2.20M468.26,169.10v2.20M298.00,328.70h3.60M471.40,328.70h-3.60M298.00,320.12h2.20M471.40,320.12h-2.20M298.00,311.55h2.20M471.40,311.55h-2.20M298.00,302.97h2.20M471.40,302.97h-2.20M298.00,294.40h3.60M471.40,294.40h-3.60M298.00,285.82h2.20M471.40,285.82h-2.20M298.00,277.25h2.20M471.40,277.25h-2.20M298.00,268.67h2.20M471.40,268.67h-2.20M298.00,260.10h3.60M471.40,260.10h-3.60M298.00,251.52h2.20M471.40,251.52h-2.20M298.00,242.95h2.20M471.40,242.95h-2.20M298.00,234.37h2.20M471.40,234.37h-2.20M298.00,225.80h3.60M471.40,225.80h-3.60M298.00,217.22h2.20M471.40,217.22h-2.20M298.00,208.65h2.20M471.40,208.65h-2.20M298.00,200.07h2.20M471.40,200.07h-2.20M298.00,191.50h3.60M471.40,191.50h-3.60M298.00,182.92h2.20M471.40,182.92h-2.20M298.00,174.35h2.20M471.40,174.35h-2.20" stroke="#1a1a1a" stroke-width="1.0" fill="none"/>
<rect x="298.00" y="169.10" width="173.40" height="159.60" fill="none" stroke="#1a1a1a" stroke-width="1.35"/>
<text transform="matrix(1 0 0 1.110 0 -36.256)" x="285.80" y="335.48" font-size="17.4" text-anchor="end" fill="#111">0.00</text>
<text transform="matrix(1 0 0 1.110 0 -32.483)" x="285.80" y="301.18" font-size="17.4" text-anchor="end" fill="#111">0.01</text>
<text transform="matrix(1 0 0 1.110 0 -28.710)" x="285.80" y="266.88" font-size="17.4" text-anchor="end" fill="#111">0.02</text>
<text transform="matrix(1 0 0 1.110 0 -24.937)" x="285.80" y="232.58" font-size="17.4" text-anchor="end" fill="#111">0.03</text>
<text transform="matrix(1 0 0 1.110 0 -21.164)" x="285.80" y="198.28" font-size="17.4" text-anchor="end" fill="#111">0.04</text>
<path d="M313.50,191.10h16.6" stroke="#000" stroke-width="1.80" stroke-dasharray="7.2,1.9"/>
<g transform="translate(346.10,184.90)" fill="none" stroke="#000" stroke-linecap="round">
<path d="M2.8,1.6 C4.8,0.4 7.8,1.4 10.0,0.9 C11.6,0.6 13.0,0.3 14.2,0.0" stroke-width="1.30"/>
<path d="M7.0,1.3 C6.6,4.0 5.9,8.0 4.6,10.4 C3.6,12.0 1.6,12.3 0.5,11.1" stroke-width="1.30"/>
<path d="M6.2,6.6 L10.7,5.9" stroke-width="1.20"/>
</g>
<text x="358.10" y="199.90" font-size="12.5" fill="#111">sk</text>
<path d="M540.80,328.70v-2.20M540.80,169.10v2.20M549.38,328.70v-2.20M549.38,169.10v2.20M556.03,328.70v-2.20M556.03,169.10v2.20M561.47,328.70v-2.20M561.47,169.10v2.20M566.06,328.70v-2.20M566.06,169.10v2.20M570.04,328.70v-2.20M570.04,169.10v2.20M573.56,328.70v-2.20M573.56,169.10v2.20M576.70,328.70v-3.60M576.70,169.10v3.60M597.36,328.70v-2.20M597.36,169.10v2.20M609.45,328.70v-2.20M609.45,169.10v2.20M618.03,328.70v-2.20M618.03,169.10v2.20M624.68,328.70v-2.20M624.68,169.10v2.20M630.12,328.70v-2.20M630.12,169.10v2.20M634.71,328.70v-2.20M634.71,169.10v2.20M638.70,328.70v-2.20M638.70,169.10v2.20M642.21,328.70v-2.20M642.21,169.10v2.20M645.35,328.70v-3.60M645.35,169.10v3.60M666.01,328.70v-2.20M666.01,169.10v2.20M678.10,328.70v-2.20M678.10,169.10v2.20M686.68,328.70v-2.20M686.68,169.10v2.20M693.33,328.70v-2.20M693.33,169.10v2.20M698.77,328.70v-2.20M698.77,169.10v2.20M703.37,328.70v-2.20M703.37,169.10v2.20M707.35,328.70v-2.20M707.35,169.10v2.20M710.86,328.70v-2.20M710.86,169.10v2.20M540.80,328.70h3.60M714.00,328.70h-3.60M540.80,320.23h2.20M714.00,320.23h-2.20M540.80,311.75h2.20M714.00,311.75h-2.20M540.80,303.27h2.20M714.00,303.27h-2.20M540.80,294.80h3.60M714.00,294.80h-3.60M540.80,286.33h2.20M714.00,286.33h-2.20M540.80,277.85h2.20M714.00,277.85h-2.20M540.80,269.38h2.20M714.00,269.38h-2.20M540.80,260.90h3.60M714.00,260.90h-3.60M540.80,252.43h2.20M714.00,252.43h-2.20M540.80,243.95h2.20M714.00,243.95h-2.20M540.80,235.48h2.20M714.00,235.48h-2.20M540.80,227.00h3.60M714.00,227.00h-3.60M540.80,218.53h2.20M714.00,218.53h-2.20M540.80,210.05h2.20M714.00,210.05h-2.20M540.80,201.58h2.20M714.00,201.58h-2.20M540.80,193.10h3.60M714.00,193.10h-3.60M540.80,184.63h2.20M714.00,184.63h-2.20M540.80,176.15h2.20M714.00,176.15h-2.20" stroke="#1a1a1a" stroke-width="1.0" fill="none"/>
<rect x="540.80" y="169.10" width="173.20" height="159.60" fill="none" stroke="#1a1a1a" stroke-width="1.35"/>
<text transform="matrix(1 0 0 1.110 0 -36.256)" x="528.50" y="335.48" font-size="17.4" text-anchor="end" fill="#111">0.00</text>
<text transform="matrix(1 0 0 1.110 0 -32.527)" x="528.50" y="301.58" font-size="17.4" text-anchor="end" fill="#111">0.01</text>
<text transform="matrix(1 0 0 1.110 0 -28.798)" x="528.50" y="267.68" font-size="17.4" text-anchor="end" fill="#111">0.02</text>
<text transform="matrix(1 0 0 1.110 0 -25.069)" x="528.50" y="233.78" font-size="17.4" text-anchor="end" fill="#111">0.02</text>
<text transform="matrix(1 0 0 1.110 0 -21.340)" x="528.50" y="199.88" font-size="17.4" text-anchor="end" fill="#111">0.03</text>
<path d="M556.10,191.10h16.0" stroke="#000" stroke-width="1.80" stroke-dasharray="11.8,2.7,1.5,10"/>
<g transform="translate(588.80,184.90)" fill="none" stroke="#000" stroke-linecap="round">
<path d="M0.3,3.0 C1.5,1.0 4.0,0.2 7.0,0.1 C10.5,0.0 13.0,1.2 12.8,3.2 C12.5,5.8 9.0,7.6 5.8,7.2" stroke-width="1.30"/>
<path d="M5.9,1.3 C5.3,5.0 4.2,9.0 2.6,12.4" stroke-width="1.35"/>
</g>
<text x="600.20" y="199.90" font-size="12.5" fill="#111">sk</text>
<text transform="matrix(1 0 0 1.110 0 -38.170)" x="91.50" y="352.80" font-size="17.4" text-anchor="middle" fill="#111">10<tspan font-size="11.8" dy="-6.2">1</tspan></text>
<text transform="matrix(1 0 0 1.110 0 -38.170)" x="160.15" y="352.80" font-size="17.4" text-anchor="middle" fill="#111">10<tspan font-size="11.8" dy="-6.2">2</tspan></text>
<text transform="matrix(1 0 0 1.110 0 -38.170)" x="228.80" y="352.80" font-size="17.4" text-anchor="middle" fill="#111">10<tspan font-size="11.8" dy="-6.2">3</tspan></text>
<text x="142.00" y="368.50" font-size="25" font-style="italic" text-anchor="middle" fill="#111">r</text>
<text transform="matrix(1 0 0 1.110 0 -38.170)" x="334.14" y="352.80" font-size="17.4" text-anchor="middle" fill="#111">10<tspan font-size="11.8" dy="-6.2">1</tspan></text>
<text transform="matrix(1 0 0 1.110 0 -38.170)" x="402.87" y="352.80" font-size="17.4" text-anchor="middle" fill="#111">10<tspan font-size="11.8" dy="-6.2">2</tspan></text>
<text transform="matrix(1 0 0 1.110 0 -38.170)" x="471.60" y="352.80" font-size="17.4" text-anchor="middle" fill="#111">10<tspan font-size="11.8" dy="-6.2">3</tspan></text>
<text x="384.70" y="368.50" font-size="25" font-style="italic" text-anchor="middle" fill="#111">r</text>
<text transform="matrix(1 0 0 1.110 0 -38.170)" x="576.90" y="352.80" font-size="17.4" text-anchor="middle" fill="#111">10<tspan font-size="11.8" dy="-6.2">1</tspan></text>
<text transform="matrix(1 0 0 1.110 0 -38.170)" x="645.55" y="352.80" font-size="17.4" text-anchor="middle" fill="#111">10<tspan font-size="11.8" dy="-6.2">2</tspan></text>
<text transform="matrix(1 0 0 1.110 0 -38.170)" x="714.20" y="352.80" font-size="17.4" text-anchor="middle" fill="#111">10<tspan font-size="11.8" dy="-6.2">3</tspan></text>
<text x="627.40" y="368.50" font-size="25" font-style="italic" text-anchor="middle" fill="#111">r</text>
</svg></body></html>
